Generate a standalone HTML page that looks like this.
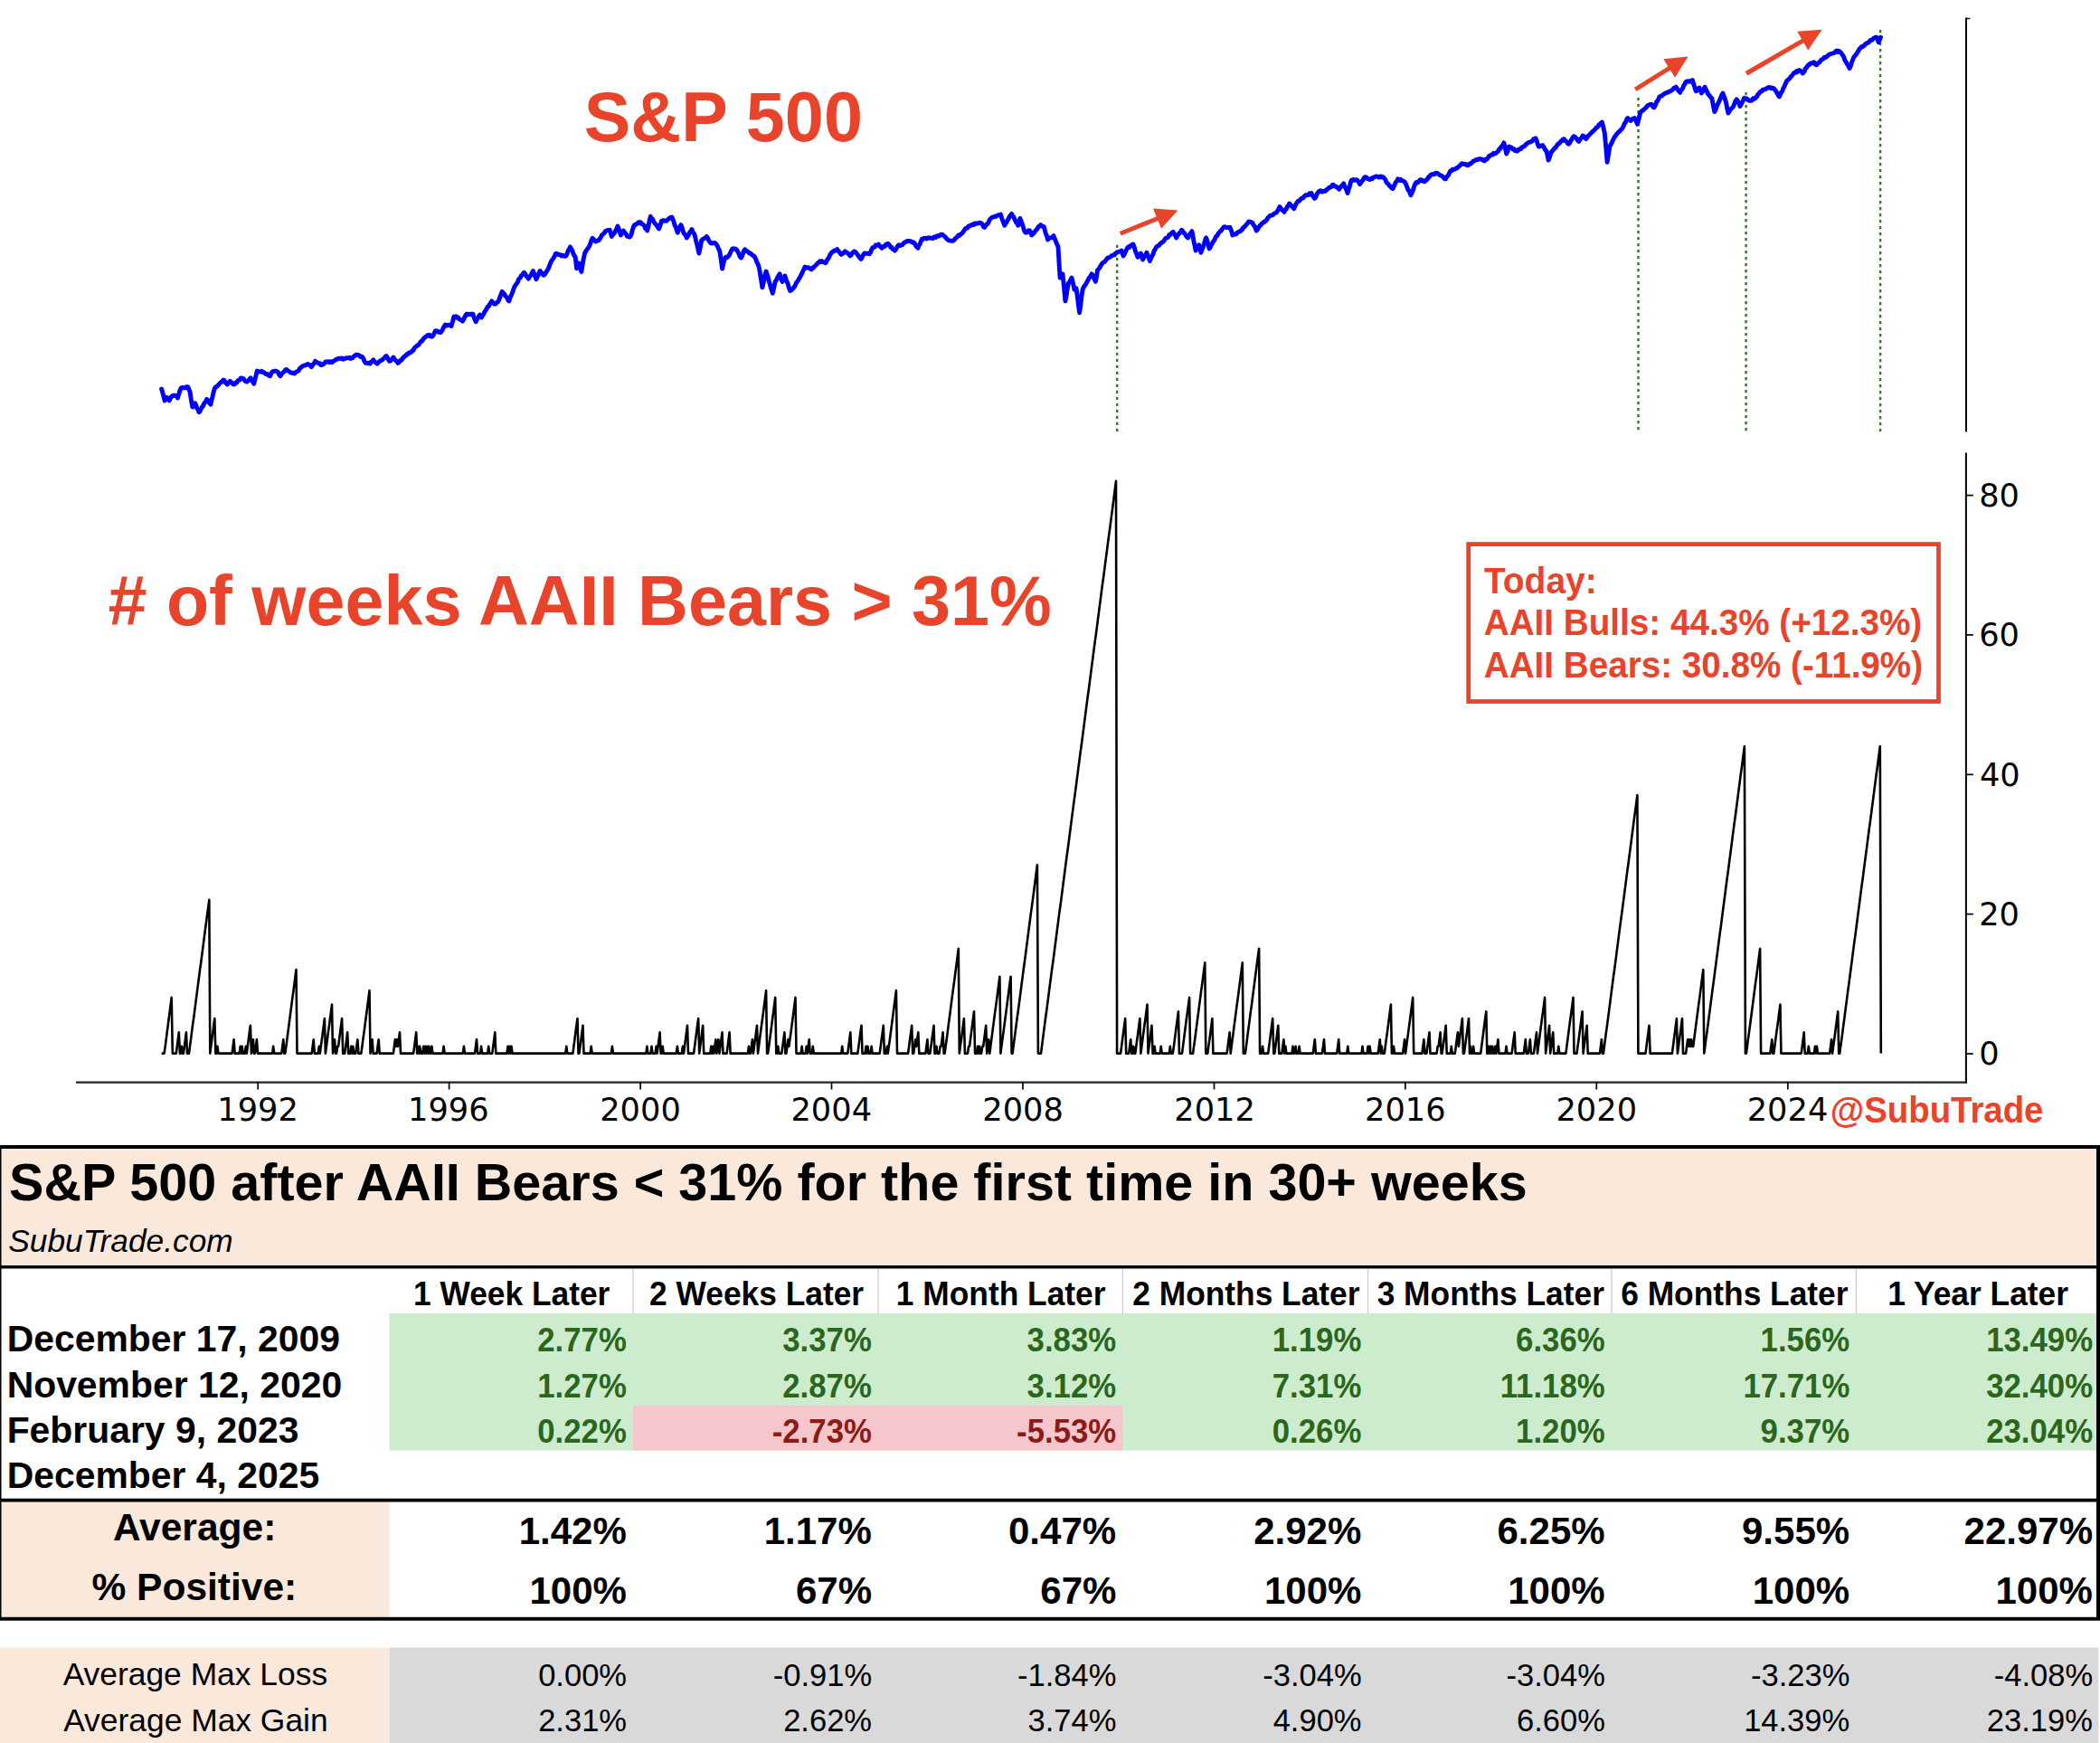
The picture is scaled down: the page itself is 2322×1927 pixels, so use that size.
<!DOCTYPE html>
<html><head><meta charset="utf-8"><title>S&amp;P 500 after AAII Bears &lt; 31%</title>
<style>html,body{margin:0;padding:0;background:#fff;} body{width:2322px;height:1927px;overflow:hidden;} svg{display:block;}</style>
</head><body>
<svg width="2322" height="1927" viewBox="0 0 2322 1927">
<rect x="0" y="0" width="2322" height="1927" fill="#fff"/>
<rect x="0" y="1266" width="2320" height="134" fill="#FAE9DB"/>
<rect x="430.5" y="1452" width="1888" height="151.5" fill="#CDEBCD"/>
<rect x="700" y="1553.8" width="541.3" height="49.7" fill="#F5C7CC"/>
<rect x="0" y="1660" width="430.5" height="128" fill="#FAE9DB"/>
<rect x="0" y="1821.5" width="430.5" height="106" fill="#FAE9DB"/>
<rect x="430.5" y="1821.5" width="1890" height="106" fill="#D9D9D9"/>
<rect x="699.4" y="1402.5" width="1.3" height="49.5" fill="#CFCFCF"/>
<rect x="970.4" y="1402.5" width="1.3" height="49.5" fill="#CFCFCF"/>
<rect x="1240.7" y="1402.5" width="1.3" height="49.5" fill="#CFCFCF"/>
<rect x="1511.9" y="1402.5" width="1.3" height="49.5" fill="#CFCFCF"/>
<rect x="1781.2" y="1402.5" width="1.3" height="49.5" fill="#CFCFCF"/>
<rect x="2051.7" y="1402.5" width="1.3" height="49.5" fill="#CFCFCF"/>
<rect x="0" y="1266" width="2322" height="4" fill="#000"/>
<rect x="0" y="1399" width="2322" height="3.5" fill="#000"/>
<rect x="0" y="1656.7" width="2322" height="3.8" fill="#000"/>
<rect x="0" y="1787.8" width="2322" height="3.9" fill="#000"/>
<rect x="0" y="1266" width="1.5" height="525" fill="#000"/>
<rect x="2318" y="1266" width="4" height="525" fill="#000"/>
<line x1="2174" y1="19.5" x2="2174" y2="477.6" stroke="#000" stroke-width="2.0"/>
<line x1="2174" y1="20.5" x2="2178.5" y2="20.5" stroke="#000" stroke-width="1.4"/>
<line x1="1235.2" y1="270.8" x2="1235.2" y2="477" stroke="#3A762C" stroke-width="2.4" stroke-dasharray="3.2 3.8"/>
<line x1="1811.5" y1="108" x2="1811.5" y2="477" stroke="#3A762C" stroke-width="2.4" stroke-dasharray="3.2 3.8"/>
<line x1="1930.6" y1="102" x2="1930.6" y2="477" stroke="#3A762C" stroke-width="2.4" stroke-dasharray="3.2 3.8"/>
<line x1="2079.1" y1="33" x2="2079.1" y2="477" stroke="#3A762C" stroke-width="2.4" stroke-dasharray="3.2 3.8"/>
<polyline points="178.6,430.0 179.8,434.0 180.9,438.0 182.1,442.9 183.2,441.3 184.3,439.3 185.7,440.4 187.1,442.9 188.2,440.8 189.3,438.6 190.4,438.0 191.4,437.1 192.5,437.5 193.6,437.1 195.0,437.8 196.4,440.0 197.6,436.3 198.8,432.2 200.0,429.3 201.2,428.4 202.4,428.7 203.6,428.6 204.7,428.9 205.8,427.6 206.8,427.6 207.9,427.9 208.9,430.6 210.0,432.9 211.4,442.2 212.9,450.0 214.3,448.0 215.7,445.7 216.8,448.0 217.8,451.5 218.9,452.5 220.0,455.7 221.1,454.7 222.2,452.2 223.2,450.3 224.3,449.3 225.4,446.7 226.4,445.0 227.5,443.9 228.6,441.4 229.7,442.3 230.8,444.4 231.8,445.9 232.9,447.1 233.9,442.6 235.0,438.6 236.1,433.6 237.1,430.0 238.2,428.2 239.2,427.4 240.3,427.1 241.4,425.7 242.5,424.4 243.7,423.1 244.8,422.4 246.0,421.1 247.1,420.0 248.2,420.9 249.2,423.0 250.3,424.1 251.4,425.0 252.9,422.8 254.3,421.4 255.4,422.4 256.5,423.2 257.5,424.7 258.6,425.0 259.7,424.5 260.7,422.9 261.8,423.1 262.9,420.8 263.9,420.4 265.0,420.1 266.0,418.2 267.1,417.9 268.3,418.7 269.4,418.8 270.6,420.7 271.7,421.7 272.9,422.1 273.9,421.2 275.0,420.6 276.1,418.7 277.1,417.9 278.3,420.3 279.5,422.3 280.7,424.3 281.9,419.7 283.1,414.7 284.3,410.0 285.3,410.7 286.3,411.1 287.3,410.6 288.4,411.1 289.4,410.3 290.4,411.5 291.4,411.4 292.4,412.2 293.5,413.4 294.5,413.8 295.5,413.5 296.5,414.3 297.6,415.4 298.6,415.7 300.0,412.4 301.4,410.7 302.6,410.6 303.9,410.2 305.1,410.1 306.4,410.7 307.6,411.7 308.8,414.5 310.0,415.7 311.1,413.7 312.3,412.5 313.4,411.3 314.6,410.6 315.7,408.6 316.8,408.5 317.9,409.6 318.9,410.3 320.0,410.7 321.1,411.8 322.3,412.1 323.4,412.6 324.6,412.1 325.7,412.9 326.8,411.8 327.9,410.8 329.0,410.6 330.1,409.8 331.3,407.6 332.4,406.6 333.5,405.8 334.6,404.8 335.7,404.3 336.8,404.0 338.0,403.9 339.1,403.1 340.3,402.4 341.4,402.9 342.9,404.2 344.3,405.7 345.4,403.9 346.5,402.6 347.5,401.6 348.6,399.3 349.6,400.2 350.6,400.6 351.6,401.3 352.7,402.0 353.7,401.7 354.7,403.6 355.7,403.6 356.8,403.1 357.9,402.4 358.9,401.4 360.0,400.0 361.0,399.9 362.0,400.0 363.0,399.7 364.1,400.6 365.1,399.8 366.1,399.9 367.1,400.7 368.3,399.5 369.4,398.7 370.6,398.3 371.7,397.1 372.9,397.1 374.0,396.2 375.0,396.4 376.1,396.2 377.1,396.5 378.2,395.9 379.3,397.2 380.3,396.7 381.4,396.4 382.4,395.7 383.5,395.8 384.5,395.9 385.5,395.8 386.5,395.3 387.6,396.4 388.6,395.7 389.7,395.9 390.7,394.4 391.8,393.9 392.9,392.6 393.9,392.1 395.0,392.1 396.1,392.4 397.1,392.9 398.2,394.4 399.3,394.0 400.3,394.3 401.4,395.7 402.9,399.3 404.3,401.4 405.6,401.6 406.8,401.2 408.1,402.0 409.3,402.1 410.5,399.9 411.7,399.3 412.9,397.9 413.9,399.7 415.0,400.6 416.1,401.4 417.1,402.1 418.2,400.8 419.2,400.1 420.3,398.9 421.4,398.6 422.5,398.0 423.7,396.7 424.8,396.0 426.0,394.3 427.1,393.6 428.3,395.1 429.5,397.9 430.7,399.3 431.8,399.0 432.9,397.7 433.9,396.6 435.0,395.0 436.2,397.1 437.5,398.6 438.8,399.4 440.0,401.4 441.1,400.6 442.1,399.4 443.2,398.0 444.3,397.9 445.4,395.8 446.6,394.9 447.7,393.6 448.9,393.0 450.0,391.4 451.1,391.4 452.3,389.9 453.4,390.0 454.6,389.4 455.7,387.9 456.8,387.5 457.9,385.4 458.9,384.0 460.0,383.3 461.4,381.9 462.9,381.4 464.0,379.4 465.2,377.9 466.3,377.0 467.5,376.0 468.6,373.8 469.7,373.5 470.8,372.1 471.8,371.6 472.9,370.5 473.9,371.3 475.0,370.4 476.0,371.6 477.1,372.3 478.1,371.9 479.2,370.3 480.3,368.2 481.4,365.7 482.5,366.0 483.7,365.9 484.8,367.3 486.0,367.0 487.1,367.6 488.2,366.4 489.2,364.9 490.3,362.3 491.3,360.6 492.4,359.0 493.5,360.0 494.6,359.9 495.7,359.2 496.8,359.4 497.9,359.7 499.0,360.5 500.4,355.9 501.9,350.0 503.1,350.7 504.3,349.9 505.5,351.3 506.7,351.0 507.9,352.8 509.0,353.4 510.2,353.9 511.4,355.2 512.6,353.3 513.8,350.6 515.0,348.3 516.2,347.1 517.3,347.9 518.4,347.3 519.5,347.1 520.7,347.8 521.8,347.0 522.9,347.1 524.0,350.6 525.1,353.4 526.2,355.7 527.3,353.3 528.4,351.5 529.4,349.7 530.5,348.1 532.4,351.0 533.5,348.7 534.7,347.3 535.8,344.9 537.0,343.2 538.1,341.4 539.2,339.1 540.4,338.7 541.5,336.1 542.7,334.5 543.8,332.9 545.2,334.7 546.7,336.2 548.0,336.0 549.2,334.5 550.5,333.8 551.7,331.6 552.9,328.1 554.0,325.3 555.2,322.4 556.3,323.9 557.4,324.6 558.5,326.8 559.6,327.9 560.7,329.1 561.8,331.9 562.9,332.9 564.0,329.3 565.2,326.7 566.3,324.1 567.5,320.8 568.6,317.6 569.9,315.4 571.1,313.8 572.4,311.9 573.3,309.0 574.3,307.8 575.4,306.9 576.4,304.6 577.4,304.0 578.5,302.3 579.5,301.4 580.7,302.7 581.9,305.2 583.1,306.4 584.3,308.1 585.3,306.5 586.4,305.1 587.4,303.6 588.5,301.1 589.5,299.5 590.6,302.7 591.8,305.6 592.9,308.6 594.0,306.3 595.0,304.4 596.0,301.7 597.1,299.5 598.4,301.2 599.7,302.7 601.0,304.3 602.3,303.4 603.5,301.4 604.8,299.5 606.1,297.3 607.3,294.5 608.6,291.0 609.7,288.5 610.9,286.9 612.0,285.4 613.2,283.1 614.3,280.5 615.4,280.3 616.5,280.7 617.6,281.6 618.8,281.4 619.9,282.1 621.0,282.9 622.2,282.2 623.4,283.2 624.5,283.4 625.7,282.9 626.9,281.0 628.1,277.3 629.3,275.7 630.5,272.9 631.6,275.4 632.8,276.9 633.9,280.4 635.1,282.8 636.2,284.3 637.6,296.7 638.8,293.4 640.0,291.0 641.5,296.5 642.9,300.5 644.8,288.1 646.7,279.5 648.0,277.4 649.2,275.7 650.5,273.8 651.7,272.0 652.9,269.1 654.0,265.4 655.2,263.3 656.3,264.5 657.5,265.9 658.6,267.1 659.8,266.4 660.9,265.7 662.1,265.7 663.2,263.8 664.2,262.9 665.3,260.1 666.4,259.3 667.5,258.3 668.5,257.1 669.6,255.3 670.7,255.0 671.9,254.5 673.1,254.7 674.3,254.3 675.3,257.9 676.4,261.4 677.5,259.3 678.6,258.6 679.7,257.2 680.8,254.8 681.8,252.9 682.9,250.0 684.1,252.7 685.2,256.3 686.4,260.0 687.8,256.8 689.3,255.0 690.4,257.0 691.5,257.8 692.5,259.2 693.6,261.4 694.8,261.3 695.9,262.1 697.1,261.4 698.2,258.7 699.2,254.6 700.3,251.2 701.4,248.6 702.5,248.7 703.7,247.6 704.8,247.2 706.0,245.6 707.1,245.7 708.2,245.7 709.2,247.5 710.3,247.8 711.4,248.6 712.5,249.5 713.5,252.5 714.6,253.6 715.7,255.0 716.9,250.2 718.1,243.9 719.3,239.3 720.5,241.8 721.8,242.5 723.0,245.7 724.3,247.1 725.4,248.5 726.5,249.7 727.5,251.5 728.6,252.9 730.0,249.3 731.4,244.3 732.5,243.9 733.7,243.7 734.8,244.3 736.0,243.9 737.1,244.3 738.3,242.8 739.4,242.0 740.6,241.0 741.7,240.4 742.9,240.0 744.0,242.5 745.0,245.4 746.1,249.0 747.2,251.1 748.2,254.3 749.3,257.1 750.5,253.8 751.7,251.2 752.9,248.6 754.3,252.1 755.7,257.1 756.9,258.6 758.1,260.2 759.3,262.9 760.4,261.4 761.6,259.3 762.7,256.8 763.9,255.4 765.0,253.6 766.2,256.9 767.4,258.2 768.6,261.4 769.7,266.6 770.8,270.6 771.8,275.3 772.9,280.0 774.3,273.4 775.7,265.7 776.8,264.7 778.0,264.0 779.1,263.4 780.3,263.0 781.4,261.4 782.5,262.9 783.5,265.5 784.6,267.1 785.7,268.6 786.8,269.0 788.0,268.7 789.1,268.8 790.3,268.4 791.4,269.3 792.5,270.7 793.5,272.5 794.6,275.5 795.7,277.1 797.2,286.7 798.6,297.1 800.0,290.9 801.4,285.7 802.5,284.3 803.5,284.8 804.6,284.2 805.7,282.9 806.8,281.2 807.9,278.6 808.9,276.6 810.0,275.0 811.1,274.8 812.1,275.3 813.2,275.0 814.3,275.7 815.5,277.9 816.8,280.0 818.0,283.4 819.3,285.0 820.4,283.4 821.5,280.4 822.5,277.6 823.6,275.7 824.9,277.5 826.1,277.5 827.4,278.7 828.6,280.0 829.7,279.9 830.9,281.3 832.0,282.1 833.2,282.9 834.3,283.6 835.5,286.1 836.8,289.7 838.0,291.9 839.3,295.7 840.5,302.7 841.7,309.8 842.9,317.9 844.0,313.3 845.0,308.2 846.0,303.7 847.1,300.0 848.1,303.2 849.2,306.5 850.2,310.6 851.2,313.9 852.2,317.8 853.3,321.1 854.3,324.3 855.7,318.2 857.1,311.4 858.4,309.9 859.6,307.0 860.9,304.7 862.1,302.9 863.5,307.9 865.0,311.4 866.5,307.6 867.9,305.0 869.0,308.6 870.2,311.8 871.3,314.1 872.5,318.7 873.6,321.4 874.8,321.1 875.9,319.7 877.1,318.6 878.3,317.1 879.4,315.4 880.6,312.4 881.7,311.2 882.9,309.3 883.9,307.3 884.9,305.8 885.9,303.7 887.0,301.7 888.0,299.2 889.0,297.7 890.0,295.0 891.0,295.7 892.0,296.1 893.0,295.8 894.1,295.9 895.1,296.5 896.1,297.3 897.1,297.9 898.1,296.2 899.2,296.4 900.2,294.9 901.2,294.0 902.2,293.0 903.3,292.0 904.3,290.7 905.4,290.2 906.5,288.9 907.5,289.6 908.6,288.6 909.7,289.5 910.8,289.7 911.8,290.2 912.9,290.7 913.9,289.2 914.9,286.5 915.9,285.9 917.0,283.4 918.0,281.4 919.0,280.0 920.0,278.6 921.1,278.4 922.3,277.0 923.4,277.2 924.6,277.0 925.7,275.7 926.8,277.1 927.9,278.4 928.9,279.9 930.0,281.4 931.1,280.8 932.1,280.1 933.2,279.0 934.3,277.9 935.4,279.1 936.6,279.2 937.7,280.3 938.9,281.5 940.0,282.9 941.1,282.0 942.1,280.1 943.2,279.3 944.3,277.9 945.4,278.2 946.5,279.3 947.5,280.7 948.6,282.1 949.8,283.8 950.9,285.3 952.1,286.4 953.3,284.5 954.5,281.8 955.7,280.0 956.8,280.2 958.0,280.2 959.1,280.4 960.3,279.9 961.4,280.7 962.6,279.0 963.8,275.5 965.0,273.6 966.1,273.8 967.1,273.1 968.2,271.0 969.3,271.1 970.3,271.1 971.4,270.0 972.6,272.2 973.8,272.8 975.0,274.3 976.1,273.1 977.1,272.2 978.2,272.5 979.3,270.5 980.3,270.3 981.4,269.3 982.5,269.8 983.7,271.6 984.8,273.4 985.9,273.2 987.0,275.4 988.2,276.0 989.3,277.1 990.5,275.8 991.7,273.6 992.9,271.4 994.1,270.8 995.4,271.7 996.6,270.9 997.9,270.7 999.1,268.9 1000.4,267.8 1001.6,267.5 1002.9,266.4 1003.9,266.5 1004.9,266.5 1005.9,266.5 1007.0,267.0 1008.0,267.2 1009.0,268.2 1010.0,267.9 1011.2,268.7 1012.5,271.5 1013.8,273.2 1015.0,274.3 1016.1,271.2 1017.1,270.0 1018.2,267.1 1019.3,264.3 1020.4,264.7 1021.4,263.5 1022.5,263.4 1023.6,263.2 1024.6,263.9 1025.7,262.9 1026.8,263.2 1028.0,263.0 1029.1,263.2 1030.3,263.1 1031.4,263.6 1032.5,262.3 1033.7,261.8 1034.8,262.4 1036.0,260.9 1037.1,260.7 1038.3,261.0 1039.6,259.6 1040.8,259.3 1042.1,259.3 1043.3,260.6 1044.6,261.3 1045.8,262.8 1047.1,264.3 1048.3,265.4 1049.4,265.8 1050.6,266.1 1051.7,266.2 1052.9,266.4 1054.0,266.1 1055.2,265.1 1056.3,263.5 1057.5,262.8 1058.6,261.4 1059.7,260.0 1060.8,260.4 1061.8,259.2 1062.9,258.6 1064.0,257.7 1065.2,256.2 1066.3,254.4 1067.5,252.7 1068.6,252.1 1069.6,252.2 1070.6,250.3 1071.6,250.3 1072.7,249.4 1073.7,248.8 1074.7,248.9 1075.7,247.9 1076.8,248.5 1077.8,247.1 1078.9,247.6 1080.0,246.8 1081.1,247.1 1082.2,246.6 1083.2,246.1 1084.3,246.4 1085.4,247.1 1086.4,248.4 1087.5,250.8 1088.6,251.4 1089.6,250.0 1090.6,248.1 1091.6,247.8 1092.7,246.5 1093.7,244.2 1094.7,242.3 1095.7,241.4 1096.8,240.5 1098.0,239.9 1099.1,239.9 1100.3,239.1 1101.4,239.3 1102.7,238.3 1103.9,237.8 1105.2,237.8 1106.4,237.1 1107.5,240.8 1108.6,243.6 1109.6,246.1 1110.7,249.3 1111.8,247.3 1113.0,245.7 1114.1,243.6 1115.2,241.7 1116.3,239.4 1117.5,237.9 1118.6,236.4 1119.6,239.0 1120.6,239.5 1121.6,241.9 1122.7,244.0 1123.7,246.2 1124.7,247.0 1125.7,249.3 1126.8,245.0 1127.9,241.4 1129.0,244.1 1130.2,247.5 1131.3,250.7 1132.5,254.7 1133.6,257.1 1134.8,257.1 1136.1,256.6 1137.3,254.8 1138.6,255.0 1139.7,256.8 1140.7,260.0 1142.0,258.9 1143.2,257.8 1144.5,255.7 1145.7,254.3 1147.0,253.0 1148.2,250.7 1149.5,249.9 1150.7,248.6 1151.9,250.0 1153.1,250.5 1154.3,250.7 1155.4,254.8 1156.4,258.6 1157.5,261.0 1158.6,265.0 1159.7,263.7 1160.7,263.0 1161.8,262.9 1162.9,262.4 1163.9,262.1 1165.0,260.7 1166.2,264.1 1167.5,267.0 1168.8,270.3 1170.0,272.9 1171.0,289.9 1172.1,307.1 1173.5,305.1 1175.0,302.9 1176.5,317.2 1177.9,332.9 1179.1,326.7 1180.2,319.1 1181.4,312.9 1182.6,311.6 1183.8,309.3 1185.0,307.1 1186.5,313.2 1187.9,320.0 1189.0,318.7 1190.0,318.6 1191.2,327.2 1192.4,336.9 1193.6,345.7 1194.8,337.5 1195.9,327.9 1197.1,320.0 1198.3,317.2 1199.6,315.7 1200.8,313.7 1202.1,311.4 1203.3,309.1 1204.6,306.7 1205.8,305.2 1207.1,302.9 1208.2,304.2 1209.2,306.8 1210.3,309.2 1211.4,311.4 1212.5,305.7 1213.6,298.6 1214.7,297.4 1215.7,296.3 1216.8,294.3 1217.9,292.4 1218.9,291.0 1220.0,290.0 1221.1,289.7 1222.3,288.3 1223.4,286.7 1224.6,285.2 1225.7,285.0 1226.8,284.4 1227.8,284.0 1228.9,283.0 1230.0,282.1 1231.1,282.1 1232.2,281.9 1233.2,280.2 1234.3,280.0 1235.4,278.7 1236.6,278.5 1237.7,278.1 1238.9,277.9 1240.0,277.0 1241.0,279.5 1242.1,282.9 1243.2,281.2 1244.2,279.0 1245.3,276.5 1246.4,274.3 1247.5,273.1 1248.6,273.6 1249.7,271.8 1250.7,271.9 1251.8,270.3 1252.9,270.0 1254.2,273.1 1255.4,277.6 1256.7,280.4 1257.9,284.3 1259.1,283.6 1260.2,281.4 1261.4,280.0 1262.5,283.0 1263.6,287.1 1264.7,284.7 1265.8,283.1 1266.8,281.5 1267.9,279.3 1269.1,283.1 1270.2,284.9 1271.4,288.6 1272.5,285.8 1273.7,283.0 1274.8,281.6 1276.0,277.7 1277.1,275.7 1278.3,273.7 1279.4,272.4 1280.6,271.7 1281.7,271.2 1282.9,269.3 1283.9,269.0 1284.9,267.8 1285.9,267.4 1287.0,266.3 1288.0,264.5 1289.0,263.3 1290.0,262.9 1291.0,262.7 1292.0,261.4 1293.0,259.4 1294.1,259.4 1295.1,258.1 1296.1,257.1 1297.1,256.4 1298.3,258.3 1299.5,260.2 1300.7,262.9 1301.8,260.4 1303.0,259.1 1304.1,257.5 1305.3,256.7 1306.4,254.3 1307.4,254.9 1308.5,257.5 1309.5,257.5 1310.5,259.0 1311.5,261.0 1312.6,262.2 1313.6,262.9 1314.7,261.0 1315.8,258.6 1316.8,257.5 1317.9,255.7 1319.0,260.8 1320.0,267.1 1321.0,271.3 1322.1,277.1 1323.3,274.7 1324.5,273.5 1325.7,270.7 1326.8,274.2 1327.9,279.3 1329.0,275.9 1330.2,273.2 1331.3,269.9 1332.5,265.4 1333.6,262.9 1334.8,266.2 1335.9,270.3 1337.1,275.0 1338.2,273.7 1339.2,270.7 1340.3,269.5 1341.4,267.1 1342.5,265.9 1343.7,263.2 1344.8,261.2 1346.0,260.5 1347.1,257.9 1348.1,257.1 1349.2,255.5 1350.2,255.2 1351.2,253.5 1352.2,252.4 1353.3,250.9 1354.3,250.7 1355.4,251.2 1356.6,251.6 1357.7,251.3 1358.9,252.0 1360.0,251.4 1361.5,254.9 1362.9,260.0 1364.0,259.0 1365.0,258.9 1366.1,259.1 1367.2,258.6 1368.2,257.1 1369.3,256.4 1370.3,256.1 1371.4,255.7 1372.4,254.5 1373.5,254.0 1374.5,251.6 1375.5,251.4 1376.6,250.1 1377.6,249.1 1378.6,247.8 1379.7,246.4 1380.7,245.0 1381.8,245.1 1382.8,245.4 1383.9,245.8 1385.0,246.4 1386.1,249.0 1387.2,250.0 1388.2,252.4 1389.3,255.0 1390.5,253.8 1391.8,251.4 1393.0,249.5 1394.3,248.6 1395.4,246.8 1396.5,246.5 1397.5,245.1 1398.6,245.1 1399.7,243.8 1400.8,242.9 1401.8,240.7 1402.9,240.0 1404.0,238.7 1405.0,238.1 1406.1,238.1 1407.2,237.8 1408.2,236.8 1409.3,235.8 1410.3,235.5 1411.4,235.0 1412.6,233.1 1413.8,231.0 1415.0,228.6 1416.2,230.4 1417.5,232.0 1418.8,233.1 1420.0,234.3 1421.1,231.8 1422.3,231.1 1423.4,228.4 1424.6,227.0 1425.7,225.0 1427.0,226.2 1428.2,228.2 1429.5,228.8 1430.7,230.7 1431.9,227.9 1433.1,225.6 1434.3,223.6 1435.4,222.1 1436.5,222.4 1437.5,221.0 1438.6,219.7 1439.7,218.9 1440.8,219.0 1441.8,217.3 1442.9,216.4 1443.9,215.6 1444.9,216.1 1445.9,215.4 1447.0,215.6 1448.0,213.8 1449.0,214.0 1450.0,213.6 1451.2,216.0 1452.4,217.9 1453.6,219.3 1454.8,218.0 1456.1,214.6 1457.3,213.0 1458.6,211.4 1459.7,210.8 1460.9,210.9 1462.0,212.2 1463.2,211.5 1464.3,211.4 1465.4,211.3 1466.5,209.6 1467.6,209.6 1468.7,208.2 1469.9,207.1 1471.0,207.1 1472.1,206.6 1473.2,204.5 1474.3,204.3 1475.4,205.3 1476.4,206.2 1477.5,206.3 1478.6,207.4 1479.6,207.9 1480.7,209.3 1482.0,207.2 1483.2,205.7 1484.5,204.7 1485.7,202.9 1486.8,205.8 1487.8,207.8 1488.9,210.1 1490.0,213.6 1491.1,209.7 1492.2,206.7 1493.2,202.4 1494.3,199.3 1495.4,198.9 1496.6,198.5 1497.7,199.4 1498.9,198.8 1500.0,198.6 1501.2,199.6 1502.4,201.3 1503.6,203.6 1504.7,201.9 1505.9,200.5 1507.0,199.1 1508.2,196.6 1509.3,195.7 1510.5,195.9 1511.8,197.5 1513.0,197.7 1514.3,198.6 1515.3,197.7 1516.3,197.3 1517.3,197.8 1518.4,196.2 1519.4,196.1 1520.4,195.3 1521.4,195.0 1522.5,195.0 1523.7,195.8 1524.8,196.1 1525.9,195.2 1527.0,195.0 1528.2,196.0 1529.3,195.7 1530.5,197.0 1531.8,198.5 1533.0,201.7 1534.3,202.9 1535.4,203.9 1536.6,205.7 1537.7,206.2 1538.9,208.1 1540.0,208.6 1541.1,206.4 1542.3,203.8 1543.4,201.4 1544.6,200.1 1545.7,197.9 1546.7,198.5 1547.8,199.4 1548.8,198.4 1549.8,199.7 1550.8,199.7 1551.9,200.3 1552.9,200.7 1553.9,202.3 1554.9,204.6 1555.9,207.2 1557.0,210.0 1558.0,210.8 1559.0,213.5 1560.0,215.7 1561.2,213.0 1562.5,210.0 1563.8,205.6 1565.0,202.9 1566.1,201.6 1567.1,202.2 1568.2,201.5 1569.3,200.0 1570.3,198.6 1571.4,198.6 1572.6,200.0 1573.8,199.8 1575.0,200.7 1576.1,200.2 1577.3,198.7 1578.4,197.9 1579.5,195.7 1580.6,195.6 1581.8,193.6 1582.9,192.9 1584.0,192.4 1585.2,192.9 1586.3,192.5 1587.5,191.2 1588.6,191.4 1589.7,191.7 1590.8,192.7 1591.9,193.6 1593.0,194.1 1594.2,194.4 1595.3,195.3 1596.4,196.8 1597.5,197.8 1598.6,197.9 1599.7,195.3 1600.9,194.3 1602.0,192.7 1603.2,189.7 1604.3,188.6 1605.3,188.7 1606.3,187.2 1607.3,187.5 1608.4,187.0 1609.4,186.7 1610.4,185.8 1611.4,185.7 1612.7,184.3 1613.9,183.3 1615.2,181.8 1616.4,180.7 1617.5,181.3 1618.6,181.3 1619.7,181.7 1620.7,181.4 1621.8,182.7 1622.9,182.9 1623.9,182.2 1624.9,181.0 1625.9,181.2 1627.0,180.5 1628.0,179.3 1629.0,178.1 1630.0,177.9 1631.0,177.5 1632.0,176.6 1633.0,176.4 1634.1,176.5 1635.1,175.7 1636.1,175.9 1637.1,175.7 1638.2,176.3 1639.2,176.1 1640.3,177.6 1641.4,177.9 1642.4,176.3 1643.5,176.4 1644.5,175.6 1645.5,174.2 1646.5,172.5 1647.6,172.3 1648.6,171.4 1649.6,170.7 1650.6,171.1 1651.6,169.3 1652.7,170.0 1653.7,169.7 1654.7,168.8 1655.7,167.9 1656.7,167.0 1657.8,164.6 1658.8,164.4 1659.8,162.2 1660.8,161.5 1661.9,160.0 1662.9,157.9 1664.3,163.4 1665.7,170.0 1667.2,166.5 1668.6,162.1 1669.7,163.4 1670.7,162.7 1671.8,163.7 1672.8,165.0 1673.9,164.7 1675.0,166.5 1676.0,166.1 1677.1,167.1 1678.2,166.9 1679.2,165.1 1680.3,165.0 1681.4,164.9 1682.5,163.1 1683.5,162.4 1684.6,162.1 1685.7,161.4 1686.8,160.3 1688.0,158.9 1689.1,158.3 1690.3,157.4 1691.4,157.1 1692.5,157.1 1693.6,156.0 1694.7,155.6 1695.7,153.8 1696.8,154.1 1697.9,152.9 1699.1,155.4 1700.2,159.1 1701.4,162.1 1702.5,162.0 1703.6,161.2 1704.6,161.6 1705.7,160.7 1706.8,162.4 1707.8,164.0 1708.9,166.1 1710.0,167.1 1711.0,171.5 1712.1,177.1 1713.5,173.6 1715.0,168.6 1716.0,167.6 1717.0,166.0 1718.0,165.4 1719.1,163.3 1720.1,163.2 1721.1,161.4 1722.1,160.0 1723.1,158.9 1724.2,158.6 1725.2,157.2 1726.2,155.8 1727.2,155.8 1728.3,153.8 1729.3,153.6 1730.5,155.5 1731.8,156.1 1733.0,158.1 1734.3,159.3 1735.4,158.4 1736.6,156.0 1737.7,154.4 1738.9,152.1 1740.0,150.7 1741.1,151.0 1742.3,152.2 1743.4,153.6 1744.6,155.4 1745.7,156.4 1746.8,154.7 1747.8,153.2 1748.9,152.2 1750.0,150.0 1751.2,150.6 1752.4,152.0 1753.6,153.6 1754.6,152.7 1755.7,150.6 1756.7,149.5 1757.7,148.9 1758.8,147.4 1759.8,146.7 1760.8,145.4 1761.9,144.8 1762.9,143.6 1764.0,142.7 1765.0,141.0 1766.1,140.6 1767.2,139.3 1768.2,137.6 1769.3,137.8 1770.3,135.7 1771.4,135.0 1772.8,140.5 1774.3,147.1 1775.7,162.6 1777.1,179.3 1778.5,170.6 1780.0,161.4 1781.0,160.2 1782.0,158.2 1783.0,155.8 1784.1,153.7 1785.1,151.5 1786.1,150.7 1787.1,148.6 1788.3,147.6 1789.4,146.1 1790.6,145.4 1791.7,144.0 1792.9,142.9 1794.1,141.5 1795.2,139.1 1796.3,136.3 1797.5,135.3 1798.7,131.8 1799.8,130.5 1800.8,131.6 1801.9,132.3 1802.9,133.5 1804.0,132.3 1805.2,131.3 1806.3,131.7 1807.4,130.5 1808.4,132.0 1809.5,135.1 1810.5,137.3 1812.0,131.9 1813.5,125.1 1814.6,123.4 1815.7,122.4 1816.8,122.0 1817.8,120.8 1818.9,119.9 1820.0,119.1 1821.1,117.5 1822.2,116.4 1823.4,116.0 1824.5,115.5 1825.7,115.2 1826.7,115.7 1827.8,118.4 1828.8,119.0 1829.8,117.4 1830.8,115.3 1831.8,112.2 1832.9,111.5 1833.9,109.3 1834.9,106.9 1836.0,106.3 1837.2,106.1 1838.3,105.1 1839.5,104.2 1840.6,103.4 1841.7,103.0 1842.9,102.1 1844.0,102.3 1845.1,101.3 1846.3,101.2 1847.4,100.3 1848.5,99.8 1849.7,98.8 1850.8,97.4 1852.0,97.0 1853.1,96.2 1854.2,97.6 1855.4,99.7 1856.5,100.8 1857.7,102.3 1858.7,100.0 1859.7,98.7 1860.8,97.3 1861.8,94.2 1862.8,93.4 1863.8,90.9 1864.8,89.9 1865.8,90.0 1866.8,89.7 1867.9,90.2 1868.9,90.3 1869.9,89.3 1871.4,88.6 1872.7,93.1 1873.9,96.5 1875.2,100.8 1876.5,100.1 1877.7,98.0 1879.0,97.0 1880.2,99.6 1881.3,103.0 1882.6,101.4 1883.8,98.7 1885.1,96.2 1886.2,98.8 1887.4,101.0 1888.5,103.8 1889.7,105.3 1890.7,106.3 1891.8,107.9 1892.8,108.4 1894.3,116.3 1895.8,123.6 1897.1,121.1 1898.3,117.4 1899.6,114.5 1900.7,112.6 1901.8,110.0 1902.8,107.3 1903.9,104.8 1905.0,103.0 1906.3,107.0 1907.5,110.0 1908.8,114.5 1909.9,120.5 1911.0,125.1 1912.2,123.0 1913.3,121.3 1914.4,119.9 1915.6,119.0 1916.8,117.4 1917.9,114.2 1919.0,111.6 1920.2,109.9 1921.5,111.7 1922.7,114.2 1924.0,117.5 1925.2,115.5 1926.3,113.2 1927.4,111.0 1928.6,108.4 1929.7,109.3 1930.9,108.7 1932.0,110.0 1933.1,110.2 1934.3,111.4 1935.4,111.4 1936.4,111.3 1937.4,110.8 1938.5,108.8 1939.5,109.5 1940.5,108.9 1941.5,107.6 1942.6,107.1 1943.7,104.6 1944.8,103.5 1945.8,102.2 1946.9,100.9 1948.0,101.0 1949.1,99.2 1950.1,99.3 1951.1,98.7 1952.2,98.6 1953.2,97.9 1954.2,97.0 1955.2,97.0 1956.2,96.5 1957.2,96.6 1958.2,97.8 1959.3,97.0 1960.3,97.3 1961.3,97.7 1962.3,99.1 1963.3,100.0 1964.3,101.9 1965.4,103.5 1966.4,105.7 1967.4,106.9 1968.5,104.4 1969.6,102.0 1970.7,100.8 1971.7,97.8 1972.8,96.0 1973.9,93.4 1975.0,90.9 1976.0,89.0 1977.0,88.4 1978.1,87.2 1979.1,86.6 1980.1,84.7 1981.1,84.1 1982.2,82.6 1983.2,80.9 1984.2,80.2 1985.2,80.4 1986.2,78.8 1987.2,79.6 1988.3,78.1 1989.3,77.5 1990.3,77.9 1991.8,79.0 1993.3,81.0 1994.3,79.9 1995.3,78.7 1996.3,75.6 1997.4,74.9 1998.4,73.3 1999.4,71.8 2000.4,71.8 2001.4,70.3 2002.5,70.3 2003.5,69.6 2004.5,69.8 2005.5,68.8 2006.5,69.4 2007.6,71.5 2008.6,71.8 2009.6,70.4 2010.6,69.3 2011.7,69.1 2012.7,67.7 2013.7,66.1 2014.7,65.7 2015.8,65.2 2016.9,63.5 2018.0,63.9 2019.0,63.0 2020.1,62.4 2021.2,61.4 2022.3,60.4 2023.5,59.8 2024.6,59.5 2025.8,59.1 2026.9,58.9 2028.4,58.4 2029.9,56.6 2031.1,56.1 2032.2,57.6 2033.3,56.4 2034.5,57.3 2036.0,58.7 2037.5,61.1 2038.8,63.3 2040.0,66.9 2041.3,68.8 2042.6,71.1 2043.8,73.1 2045.1,75.6 2046.2,73.2 2047.4,69.1 2048.5,66.4 2049.7,63.4 2050.8,61.9 2051.9,60.8 2053.0,59.3 2054.0,57.6 2055.1,55.6 2056.2,54.0 2057.3,52.8 2058.4,51.5 2059.5,51.8 2060.6,50.7 2061.6,50.1 2062.7,48.4 2063.8,48.1 2064.9,47.4 2065.9,47.1 2066.9,46.0 2067.9,44.6 2069.0,44.3 2070.0,44.3 2071.0,42.9 2072.3,41.9 2073.6,41.3 2074.9,41.3 2076.0,43.7 2077.1,46.7 2078.2,44.3 2079.4,41.3" fill="none" stroke="#0000FF" stroke-width="4.9" stroke-linejoin="round" stroke-linecap="round"/>
<polygon points="1239.6,260.6 1280.5,244.0 1284.0,252.8 1302.4,232.4 1275.0,230.6 1278.6,239.4 1237.8,256.0" fill="#E8442B"/>
<polygon points="1809.5,101.0 1847.0,77.6 1852.0,85.7 1866.6,62.4 1839.3,65.3 1844.3,73.4 1806.9,96.8" fill="#E8442B"/>
<polygon points="1932.3,83.4 1994.5,47.3 1999.2,55.6 2014.6,32.8 1987.2,34.8 1992.0,43.0 1929.7,79.0" fill="#E8442B"/>
<line x1="2173.9" y1="500.4" x2="2173.9" y2="1197.7" stroke="#000" stroke-width="2.0"/>
<line x1="84" y1="1196.6" x2="2175" y2="1196.6" stroke="#222" stroke-width="2.3"/>
<line x1="285.2" y1="1196.6" x2="285.2" y2="1204.5" stroke="#000" stroke-width="1.7"/>
<line x1="496.6" y1="1196.6" x2="496.6" y2="1204.5" stroke="#000" stroke-width="1.7"/>
<line x1="708.1" y1="1196.6" x2="708.1" y2="1204.5" stroke="#000" stroke-width="1.7"/>
<line x1="919.5" y1="1196.6" x2="919.5" y2="1204.5" stroke="#000" stroke-width="1.7"/>
<line x1="1131.0" y1="1196.6" x2="1131.0" y2="1204.5" stroke="#000" stroke-width="1.7"/>
<line x1="1342.5" y1="1196.6" x2="1342.5" y2="1204.5" stroke="#000" stroke-width="1.7"/>
<line x1="1553.9" y1="1196.6" x2="1553.9" y2="1204.5" stroke="#000" stroke-width="1.7"/>
<line x1="1765.3" y1="1196.6" x2="1765.3" y2="1204.5" stroke="#000" stroke-width="1.7"/>
<line x1="1976.8" y1="1196.6" x2="1976.8" y2="1204.5" stroke="#000" stroke-width="1.7"/>
<line x1="2174" y1="1165.0" x2="2181.8" y2="1165.0" stroke="#000" stroke-width="1.7"/>
<line x1="2174" y1="1010.6" x2="2181.8" y2="1010.6" stroke="#000" stroke-width="1.7"/>
<line x1="2174" y1="856.3" x2="2181.8" y2="856.3" stroke="#000" stroke-width="1.7"/>
<line x1="2174" y1="701.9" x2="2181.8" y2="701.9" stroke="#000" stroke-width="1.7"/>
<line x1="2174" y1="547.6" x2="2181.8" y2="547.6" stroke="#000" stroke-width="1.7"/>
<polyline points="178.6,1164.6 179.6,1164.6 180.6,1164.6 181.6,1164.6 182.7,1156.9 183.7,1149.2 184.7,1141.4 185.7,1133.7 186.7,1126.0 187.7,1118.3 188.7,1110.6 189.7,1102.9 190.8,1164.6 191.8,1164.6 192.8,1164.6 193.8,1164.6 194.8,1164.6 195.8,1156.9 196.8,1149.2 197.8,1141.4 198.9,1164.6 199.9,1164.6 200.9,1156.9 201.9,1164.6 202.9,1164.6 203.9,1156.9 204.9,1149.2 205.9,1141.4 207.0,1164.6 208.0,1164.6 209.0,1164.6 210.0,1156.9 211.0,1149.2 212.0,1141.4 213.0,1133.7 214.1,1126.0 215.1,1118.3 216.1,1110.6 217.1,1102.9 218.1,1095.1 219.1,1087.4 220.1,1079.7 221.1,1072.0 222.2,1064.3 223.2,1056.6 224.2,1048.8 225.2,1041.1 226.2,1033.4 227.2,1025.7 228.2,1018.0 229.2,1010.2 230.3,1002.5 231.3,994.8 232.3,1164.6 233.3,1156.9 234.3,1149.2 235.3,1141.4 236.3,1133.7 237.3,1126.0 238.4,1164.6 239.4,1164.6 240.4,1156.9 241.4,1164.6 242.4,1164.6 243.4,1164.6 244.4,1164.6 245.5,1164.6 246.5,1164.6 247.5,1164.6 248.5,1164.6 249.5,1164.6 250.5,1164.6 251.5,1164.6 252.5,1164.6 253.6,1164.6 254.6,1164.6 255.6,1164.6 256.6,1164.6 257.6,1156.9 258.6,1149.2 259.6,1164.6 260.6,1164.6 261.7,1164.6 262.7,1164.6 263.7,1164.6 264.7,1164.6 265.7,1156.9 266.7,1164.6 267.7,1156.9 268.7,1164.6 269.8,1164.6 270.8,1164.6 271.8,1156.9 272.8,1164.6 273.8,1156.9 274.8,1149.2 275.8,1141.4 276.9,1133.7 277.9,1164.6 278.9,1156.9 279.9,1149.2 280.9,1164.6 281.9,1164.6 282.9,1156.9 283.9,1149.2 285.0,1164.6 286.0,1164.6 287.0,1164.6 288.0,1164.6 289.0,1164.6 290.0,1164.6 291.0,1164.6 292.0,1164.6 293.1,1164.6 294.1,1164.6 295.1,1164.6 296.1,1164.6 297.1,1164.6 298.1,1164.6 299.1,1164.6 300.1,1164.6 301.2,1164.6 302.2,1156.9 303.2,1164.6 304.2,1164.6 305.2,1164.6 306.2,1164.6 307.2,1164.6 308.3,1164.6 309.3,1164.6 310.3,1164.6 311.3,1164.6 312.3,1156.9 313.3,1149.2 314.3,1164.6 315.3,1164.6 316.4,1156.9 317.4,1149.2 318.4,1141.4 319.4,1133.7 320.4,1126.0 321.4,1118.3 322.4,1110.6 323.4,1102.9 324.5,1095.1 325.5,1087.4 326.5,1079.7 327.5,1072.0 328.5,1164.6 329.5,1164.6 330.5,1164.6 331.5,1164.6 332.6,1164.6 333.6,1164.6 334.6,1164.6 335.6,1164.6 336.6,1164.6 337.6,1164.6 338.6,1164.6 339.7,1164.6 340.7,1164.6 341.7,1164.6 342.7,1164.6 343.7,1164.6 344.7,1164.6 345.7,1156.9 346.7,1149.2 347.8,1164.6 348.8,1164.6 349.8,1164.6 350.8,1164.6 351.8,1164.6 352.8,1156.9 353.8,1164.6 354.8,1156.9 355.9,1149.2 356.9,1141.4 357.9,1133.7 358.9,1126.0 359.9,1164.6 360.9,1156.9 361.9,1149.2 362.9,1141.4 364.0,1133.7 365.0,1126.0 366.0,1118.3 367.0,1110.6 368.0,1164.6 369.0,1156.9 370.0,1149.2 371.1,1164.6 372.1,1164.6 373.1,1156.9 374.1,1156.9 375.1,1149.2 376.1,1141.4 377.1,1133.7 378.1,1126.0 379.2,1164.6 380.2,1164.6 381.2,1164.6 382.2,1156.9 383.2,1149.2 384.2,1141.4 385.2,1164.6 386.2,1164.6 387.3,1164.6 388.3,1156.9 389.3,1164.6 390.3,1156.9 391.3,1164.6 392.3,1164.6 393.3,1164.6 394.3,1156.9 395.4,1149.2 396.4,1164.6 397.4,1164.6 398.4,1164.6 399.4,1164.6 400.4,1156.9 401.4,1149.2 402.5,1141.4 403.5,1133.7 404.5,1126.0 405.5,1118.3 406.5,1110.6 407.5,1102.9 408.5,1095.1 409.5,1164.6 410.6,1156.9 411.6,1149.2 412.6,1164.6 413.6,1164.6 414.6,1164.6 415.6,1164.6 416.6,1164.6 417.6,1156.9 418.7,1149.2 419.7,1164.6 420.7,1164.6 421.7,1164.6 422.7,1164.6 423.7,1164.6 424.7,1164.6 425.7,1164.6 426.8,1164.6 427.8,1164.6 428.8,1164.6 429.8,1164.6 430.8,1164.6 431.8,1164.6 432.8,1164.6 433.9,1164.6 434.9,1164.6 435.9,1156.9 436.9,1149.2 437.9,1156.9 438.9,1149.2 439.9,1156.9 440.9,1149.2 442.0,1141.4 443.0,1164.6 444.0,1164.6 445.0,1164.6 446.0,1164.6 447.0,1164.6 448.0,1164.6 449.0,1164.6 450.1,1164.6 451.1,1164.6 452.1,1164.6 453.1,1164.6 454.1,1164.6 455.1,1164.6 456.1,1164.6 457.1,1164.6 458.2,1156.9 459.2,1149.2 460.2,1141.4 461.2,1164.6 462.2,1156.9 463.2,1164.6 464.2,1156.9 465.3,1164.6 466.3,1164.6 467.3,1164.6 468.3,1156.9 469.3,1164.6 470.3,1156.9 471.3,1164.6 472.3,1156.9 473.4,1164.6 474.4,1156.9 475.4,1164.6 476.4,1164.6 477.4,1156.9 478.4,1164.6 479.4,1164.6 480.4,1164.6 481.5,1164.6 482.5,1164.6 483.5,1164.6 484.5,1164.6 485.5,1164.6 486.5,1164.6 487.5,1164.6 488.5,1164.6 489.6,1164.6 490.6,1156.9 491.6,1164.6 492.6,1164.6 493.6,1164.6 494.6,1164.6 495.6,1164.6 496.7,1164.6 497.7,1164.6 498.7,1164.6 499.7,1164.6 500.7,1164.6 501.7,1164.6 502.7,1164.6 503.7,1164.6 504.8,1164.6 505.8,1164.6 506.8,1164.6 507.8,1164.6 508.8,1164.6 509.8,1164.6 510.8,1164.6 511.8,1164.6 512.9,1156.9 513.9,1164.6 514.9,1164.6 515.9,1164.6 516.9,1164.6 517.9,1164.6 518.9,1164.6 519.9,1164.6 521.0,1164.6 522.0,1164.6 523.0,1164.6 524.0,1164.6 525.0,1164.6 526.0,1156.9 527.0,1149.2 528.1,1164.6 529.1,1164.6 530.1,1164.6 531.1,1164.6 532.1,1156.9 533.1,1164.6 534.1,1164.6 535.1,1164.6 536.2,1164.6 537.2,1164.6 538.2,1164.6 539.2,1164.6 540.2,1156.9 541.2,1164.6 542.2,1164.6 543.2,1164.6 544.3,1164.6 545.3,1156.9 546.3,1149.2 547.3,1141.4 548.3,1164.6 549.3,1164.6 550.3,1164.6 551.3,1164.6 552.4,1164.6 553.4,1164.6 554.4,1164.6 555.4,1164.6 556.4,1164.6 557.4,1164.6 558.4,1164.6 559.5,1164.6 560.5,1164.6 561.5,1156.9 562.5,1164.6 563.5,1156.9 564.5,1164.6 565.5,1156.9 566.5,1164.6 567.6,1164.6 568.6,1164.6 569.6,1164.6 570.6,1164.6 571.6,1164.6 572.6,1164.6 573.6,1164.6 574.6,1164.6 575.7,1164.6 576.7,1164.6 577.7,1164.6 578.7,1164.6 579.7,1164.6 580.7,1164.6 581.7,1164.6 582.7,1164.6 583.8,1164.6 584.8,1164.6 585.8,1164.6 586.8,1164.6 587.8,1164.6 588.8,1164.6 589.8,1164.6 590.9,1164.6 591.9,1164.6 592.9,1164.6 593.9,1164.6 594.9,1164.6 595.9,1164.6 596.9,1164.6 597.9,1164.6 599.0,1164.6 600.0,1164.6 601.0,1164.6 602.0,1164.6 603.0,1164.6 604.0,1164.6 605.0,1164.6 606.0,1164.6 607.1,1164.6 608.1,1164.6 609.1,1164.6 610.1,1164.6 611.1,1164.6 612.1,1164.6 613.1,1164.6 614.1,1164.6 615.2,1164.6 616.2,1164.6 617.2,1164.6 618.2,1164.6 619.2,1164.6 620.2,1164.6 621.2,1164.6 622.3,1164.6 623.3,1164.6 624.3,1164.6 625.3,1164.6 626.3,1156.9 627.3,1164.6 628.3,1164.6 629.3,1164.6 630.4,1164.6 631.4,1164.6 632.4,1164.6 633.4,1164.6 634.4,1156.9 635.4,1149.2 636.4,1141.4 637.4,1133.7 638.5,1126.0 639.5,1164.6 640.5,1164.6 641.5,1156.9 642.5,1149.2 643.5,1141.4 644.5,1133.7 645.5,1164.6 646.6,1164.6 647.6,1164.6 648.6,1164.6 649.6,1164.6 650.6,1164.6 651.6,1164.6 652.6,1164.6 653.7,1156.9 654.7,1164.6 655.7,1164.6 656.7,1164.6 657.7,1164.6 658.7,1164.6 659.7,1164.6 660.7,1164.6 661.8,1164.6 662.8,1164.6 663.8,1164.6 664.8,1164.6 665.8,1164.6 666.8,1164.6 667.8,1164.6 668.8,1164.6 669.9,1164.6 670.9,1164.6 671.9,1164.6 672.9,1164.6 673.9,1164.6 674.9,1164.6 675.9,1164.6 676.9,1156.9 678.0,1164.6 679.0,1164.6 680.0,1164.6 681.0,1164.6 682.0,1164.6 683.0,1164.6 684.0,1164.6 685.0,1164.6 686.1,1164.6 687.1,1164.6 688.1,1164.6 689.1,1164.6 690.1,1164.6 691.1,1164.6 692.1,1164.6 693.2,1164.6 694.2,1164.6 695.2,1164.6 696.2,1164.6 697.2,1164.6 698.2,1164.6 699.2,1164.6 700.2,1164.6 701.3,1164.6 702.3,1164.6 703.3,1164.6 704.3,1164.6 705.3,1164.6 706.3,1164.6 707.3,1164.6 708.3,1164.6 709.4,1164.6 710.4,1164.6 711.4,1164.6 712.4,1164.6 713.4,1164.6 714.4,1164.6 715.4,1156.9 716.4,1164.6 717.5,1164.6 718.5,1164.6 719.5,1164.6 720.5,1156.9 721.5,1164.6 722.5,1164.6 723.5,1164.6 724.6,1164.6 725.6,1156.9 726.6,1164.6 727.6,1156.9 728.6,1149.2 729.6,1141.4 730.6,1164.6 731.6,1164.6 732.7,1156.9 733.7,1164.6 734.7,1164.6 735.7,1164.6 736.7,1164.6 737.7,1164.6 738.7,1164.6 739.7,1164.6 740.8,1164.6 741.8,1164.6 742.8,1164.6 743.8,1164.6 744.8,1164.6 745.8,1164.6 746.8,1164.6 747.8,1164.6 748.9,1156.9 749.9,1164.6 750.9,1164.6 751.9,1164.6 752.9,1164.6 753.9,1164.6 754.9,1156.9 756.0,1164.6 757.0,1156.9 758.0,1149.2 759.0,1141.4 760.0,1133.7 761.0,1164.6 762.0,1164.6 763.0,1164.6 764.1,1164.6 765.1,1164.6 766.1,1164.6 767.1,1164.6 768.1,1156.9 769.1,1149.2 770.1,1141.4 771.1,1133.7 772.2,1126.0 773.2,1164.6 774.2,1156.9 775.2,1149.2 776.2,1141.4 777.2,1133.7 778.2,1164.6 779.2,1164.6 780.3,1164.6 781.3,1164.6 782.3,1164.6 783.3,1164.6 784.3,1164.6 785.3,1164.6 786.3,1156.9 787.4,1164.6 788.4,1156.9 789.4,1164.6 790.4,1156.9 791.4,1149.2 792.4,1164.6 793.4,1156.9 794.4,1149.2 795.5,1164.6 796.5,1156.9 797.5,1149.2 798.5,1141.4 799.5,1164.6 800.5,1164.6 801.5,1164.6 802.5,1164.6 803.6,1164.6 804.6,1156.9 805.6,1149.2 806.6,1141.4 807.6,1164.6 808.6,1164.6 809.6,1164.6 810.6,1164.6 811.7,1164.6 812.7,1164.6 813.7,1164.6 814.7,1164.6 815.7,1164.6 816.7,1164.6 817.7,1164.6 818.8,1164.6 819.8,1164.6 820.8,1164.6 821.8,1164.6 822.8,1164.6 823.8,1164.6 824.8,1164.6 825.8,1164.6 826.9,1164.6 827.9,1156.9 828.9,1164.6 829.9,1164.6 830.9,1156.9 831.9,1149.2 832.9,1164.6 833.9,1156.9 835.0,1149.2 836.0,1141.4 837.0,1133.7 838.0,1164.6 839.0,1156.9 840.0,1149.2 841.0,1141.4 842.0,1133.7 843.1,1126.0 844.1,1118.3 845.1,1110.6 846.1,1102.9 847.1,1095.1 848.1,1164.6 849.1,1164.6 850.2,1156.9 851.2,1149.2 852.2,1141.4 853.2,1133.7 854.2,1126.0 855.2,1118.3 856.2,1110.6 857.2,1102.9 858.3,1164.6 859.3,1164.6 860.3,1156.9 861.3,1164.6 862.3,1164.6 863.3,1164.6 864.3,1164.6 865.3,1156.9 866.4,1149.2 867.4,1141.4 868.4,1164.6 869.4,1164.6 870.4,1156.9 871.4,1149.2 872.4,1156.9 873.4,1149.2 874.5,1141.4 875.5,1133.7 876.5,1126.0 877.5,1118.3 878.5,1110.6 879.5,1102.9 880.5,1164.6 881.6,1164.6 882.6,1164.6 883.6,1164.6 884.6,1164.6 885.6,1164.6 886.6,1156.9 887.6,1164.6 888.6,1164.6 889.7,1164.6 890.7,1164.6 891.7,1156.9 892.7,1164.6 893.7,1156.9 894.7,1149.2 895.7,1164.6 896.7,1164.6 897.8,1164.6 898.8,1156.9 899.8,1164.6 900.8,1164.6 901.8,1164.6 902.8,1164.6 903.8,1164.6 904.8,1164.6 905.9,1164.6 906.9,1164.6 907.9,1164.6 908.9,1164.6 909.9,1164.6 910.9,1164.6 911.9,1164.6 913.0,1164.6 914.0,1164.6 915.0,1164.6 916.0,1164.6 917.0,1164.6 918.0,1164.6 919.0,1164.6 920.0,1164.6 921.1,1164.6 922.1,1164.6 923.1,1164.6 924.1,1164.6 925.1,1164.6 926.1,1164.6 927.1,1164.6 928.1,1164.6 929.2,1164.6 930.2,1164.6 931.2,1156.9 932.2,1164.6 933.2,1164.6 934.2,1164.6 935.2,1164.6 936.2,1164.6 937.3,1164.6 938.3,1156.9 939.3,1149.2 940.3,1141.4 941.3,1164.6 942.3,1164.6 943.3,1164.6 944.4,1164.6 945.4,1164.6 946.4,1164.6 947.4,1164.6 948.4,1164.6 949.4,1156.9 950.4,1149.2 951.4,1141.4 952.5,1133.7 953.5,1164.6 954.5,1164.6 955.5,1164.6 956.5,1164.6 957.5,1156.9 958.5,1164.6 959.5,1156.9 960.6,1164.6 961.6,1164.6 962.6,1164.6 963.6,1156.9 964.6,1164.6 965.6,1164.6 966.6,1164.6 967.6,1164.6 968.7,1164.6 969.7,1164.6 970.7,1164.6 971.7,1164.6 972.7,1164.6 973.7,1156.9 974.7,1149.2 975.8,1141.4 976.8,1133.7 977.8,1164.6 978.8,1164.6 979.8,1164.6 980.8,1156.9 981.8,1164.6 982.8,1156.9 983.9,1149.2 984.9,1141.4 985.9,1133.7 986.9,1126.0 987.9,1118.3 988.9,1110.6 989.9,1102.9 990.9,1095.1 992.0,1164.6 993.0,1164.6 994.0,1164.6 995.0,1164.6 996.0,1164.6 997.0,1164.6 998.0,1164.6 999.0,1164.6 1000.1,1164.6 1001.1,1164.6 1002.1,1164.6 1003.1,1164.6 1004.1,1164.6 1005.1,1156.9 1006.1,1149.2 1007.2,1141.4 1008.2,1133.7 1009.2,1164.6 1010.2,1164.6 1011.2,1156.9 1012.2,1149.2 1013.2,1156.9 1014.2,1149.2 1015.3,1141.4 1016.3,1164.6 1017.3,1164.6 1018.3,1164.6 1019.3,1164.6 1020.3,1164.6 1021.3,1164.6 1022.3,1164.6 1023.4,1164.6 1024.4,1156.9 1025.4,1149.2 1026.4,1164.6 1027.4,1164.6 1028.4,1164.6 1029.4,1156.9 1030.4,1149.2 1031.5,1141.4 1032.5,1133.7 1033.5,1164.6 1034.5,1164.6 1035.5,1156.9 1036.5,1164.6 1037.5,1164.6 1038.6,1164.6 1039.6,1156.9 1040.6,1156.9 1041.6,1149.2 1042.6,1141.4 1043.6,1164.6 1044.6,1164.6 1045.6,1156.9 1046.7,1149.2 1047.7,1141.4 1048.7,1133.7 1049.7,1126.0 1050.7,1118.3 1051.7,1110.6 1052.7,1102.9 1053.7,1095.1 1054.8,1087.4 1055.8,1079.7 1056.8,1072.0 1057.8,1064.3 1058.8,1056.6 1059.8,1048.8 1060.8,1164.6 1061.8,1156.9 1062.9,1149.2 1063.9,1141.4 1064.9,1133.7 1065.9,1126.0 1066.9,1164.6 1067.9,1164.6 1068.9,1164.6 1070.0,1164.6 1071.0,1156.9 1072.0,1156.9 1073.0,1149.2 1074.0,1141.4 1075.0,1133.7 1076.0,1126.0 1077.0,1118.3 1078.1,1164.6 1079.1,1164.6 1080.1,1164.6 1081.1,1156.9 1082.1,1164.6 1083.1,1156.9 1084.1,1164.6 1085.1,1164.6 1086.2,1156.9 1087.2,1156.9 1088.2,1149.2 1089.2,1141.4 1090.2,1133.7 1091.2,1164.6 1092.2,1156.9 1093.2,1149.2 1094.3,1164.6 1095.3,1156.9 1096.3,1149.2 1097.3,1141.4 1098.3,1133.7 1099.3,1126.0 1100.3,1118.3 1101.4,1110.6 1102.4,1102.9 1103.4,1095.1 1104.4,1087.4 1105.4,1079.7 1106.4,1164.6 1107.4,1156.9 1108.4,1149.2 1109.5,1141.4 1110.5,1133.7 1111.5,1126.0 1112.5,1118.3 1113.5,1110.6 1114.5,1102.9 1115.5,1095.1 1116.5,1087.4 1117.6,1079.7 1118.6,1164.6 1119.6,1164.6 1120.6,1156.9 1121.6,1149.2 1122.6,1141.4 1123.6,1133.7 1124.6,1126.0 1125.7,1118.3 1126.7,1110.6 1127.7,1102.9 1128.7,1095.1 1129.7,1087.4 1130.7,1079.7 1131.7,1072.0 1132.8,1064.3 1133.8,1056.6 1134.8,1048.8 1135.8,1041.1 1136.8,1033.4 1137.8,1025.7 1138.8,1018.0 1139.8,1010.2 1140.9,1002.5 1141.9,994.8 1142.9,987.1 1143.9,979.4 1144.9,971.7 1145.9,963.9 1146.9,956.2 1147.9,1164.6 1149.0,1164.6 1150.0,1164.6 1151.0,1164.6 1152.0,1156.9 1153.0,1149.2 1154.0,1141.4 1155.0,1133.7 1156.0,1126.0 1157.1,1118.3 1158.1,1110.6 1159.1,1102.9 1160.1,1095.1 1161.1,1087.4 1162.1,1079.7 1163.1,1072.0 1164.2,1064.3 1165.2,1056.6 1166.2,1048.8 1167.2,1041.1 1168.2,1033.4 1169.2,1025.7 1170.2,1018.0 1171.2,1010.2 1172.3,1002.5 1173.3,994.8 1174.3,987.1 1175.3,979.4 1176.3,971.7 1177.3,963.9 1178.3,956.2 1179.3,948.5 1180.4,940.8 1181.4,933.1 1182.4,925.4 1183.4,917.6 1184.4,909.9 1185.4,902.2 1186.4,894.5 1187.4,886.8 1188.5,879.1 1189.5,871.3 1190.5,863.6 1191.5,855.9 1192.5,848.2 1193.5,840.5 1194.5,832.7 1195.6,825.0 1196.6,817.3 1197.6,809.6 1198.6,801.9 1199.6,794.2 1200.6,786.4 1201.6,778.7 1202.6,771.0 1203.7,763.3 1204.7,755.6 1205.7,747.9 1206.7,740.1 1207.7,732.4 1208.7,724.7 1209.7,717.0 1210.7,709.3 1211.8,701.5 1212.8,693.8 1213.8,686.1 1214.8,678.4 1215.8,670.7 1216.8,663.0 1217.8,655.2 1218.8,647.5 1219.9,639.8 1220.9,632.1 1221.9,624.4 1222.9,616.7 1223.9,608.9 1224.9,601.2 1225.9,593.5 1227.0,585.8 1228.0,578.1 1229.0,570.4 1230.0,562.6 1231.0,554.9 1232.0,547.2 1233.0,539.5 1234.0,531.8 1235.1,1164.6 1236.1,1164.6 1237.1,1164.6 1238.1,1164.6 1239.1,1164.6 1240.1,1156.9 1241.1,1149.2 1242.1,1141.4 1243.2,1133.7 1244.2,1126.0 1245.2,1164.6 1246.2,1164.6 1247.2,1164.6 1248.2,1164.6 1249.2,1156.9 1250.2,1149.2 1251.3,1164.6 1252.3,1164.6 1253.3,1156.9 1254.3,1164.6 1255.3,1164.6 1256.3,1156.9 1257.3,1149.2 1258.4,1141.4 1259.4,1133.7 1260.4,1126.0 1261.4,1164.6 1262.4,1156.9 1263.4,1149.2 1264.4,1141.4 1265.4,1133.7 1266.5,1126.0 1267.5,1118.3 1268.5,1110.6 1269.5,1164.6 1270.5,1156.9 1271.5,1149.2 1272.5,1141.4 1273.5,1133.7 1274.6,1164.6 1275.6,1164.6 1276.6,1156.9 1277.6,1164.6 1278.6,1164.6 1279.6,1164.6 1280.6,1164.6 1281.6,1164.6 1282.7,1164.6 1283.7,1156.9 1284.7,1164.6 1285.7,1164.6 1286.7,1164.6 1287.7,1164.6 1288.7,1164.6 1289.8,1164.6 1290.8,1164.6 1291.8,1164.6 1292.8,1164.6 1293.8,1156.9 1294.8,1164.6 1295.8,1164.6 1296.8,1164.6 1297.9,1156.9 1298.9,1149.2 1299.9,1141.4 1300.9,1133.7 1301.9,1126.0 1302.9,1118.3 1303.9,1164.6 1304.9,1164.6 1306.0,1164.6 1307.0,1164.6 1308.0,1156.9 1309.0,1149.2 1310.0,1141.4 1311.0,1133.7 1312.0,1126.0 1313.0,1118.3 1314.1,1110.6 1315.1,1102.9 1316.1,1164.6 1317.1,1164.6 1318.1,1164.6 1319.1,1164.6 1320.1,1156.9 1321.2,1149.2 1322.2,1141.4 1323.2,1133.7 1324.2,1126.0 1325.2,1118.3 1326.2,1110.6 1327.2,1102.9 1328.2,1095.1 1329.3,1087.4 1330.3,1079.7 1331.3,1072.0 1332.3,1064.3 1333.3,1164.6 1334.3,1164.6 1335.3,1164.6 1336.3,1156.9 1337.4,1149.2 1338.4,1141.4 1339.4,1133.7 1340.4,1126.0 1341.4,1164.6 1342.4,1164.6 1343.4,1164.6 1344.4,1164.6 1345.5,1164.6 1346.5,1164.6 1347.5,1164.6 1348.5,1164.6 1349.5,1164.6 1350.5,1164.6 1351.5,1164.6 1352.6,1164.6 1353.6,1164.6 1354.6,1164.6 1355.6,1164.6 1356.6,1164.6 1357.6,1156.9 1358.6,1149.2 1359.6,1141.4 1360.7,1164.6 1361.7,1156.9 1362.7,1149.2 1363.7,1141.4 1364.7,1133.7 1365.7,1126.0 1366.7,1118.3 1367.7,1110.6 1368.8,1102.9 1369.8,1095.1 1370.8,1087.4 1371.8,1079.7 1372.8,1072.0 1373.8,1064.3 1374.8,1164.6 1375.8,1164.6 1376.9,1164.6 1377.9,1156.9 1378.9,1149.2 1379.9,1141.4 1380.9,1133.7 1381.9,1126.0 1382.9,1118.3 1384.0,1110.6 1385.0,1102.9 1386.0,1095.1 1387.0,1087.4 1388.0,1079.7 1389.0,1072.0 1390.0,1064.3 1391.0,1056.6 1392.1,1048.8 1393.1,1164.6 1394.1,1164.6 1395.1,1164.6 1396.1,1156.9 1397.1,1164.6 1398.1,1164.6 1399.1,1164.6 1400.2,1164.6 1401.2,1164.6 1402.2,1164.6 1403.2,1156.9 1404.2,1149.2 1405.2,1141.4 1406.2,1133.7 1407.2,1126.0 1408.3,1164.6 1409.3,1164.6 1410.3,1156.9 1411.3,1149.2 1412.3,1141.4 1413.3,1133.7 1414.3,1164.6 1415.4,1164.6 1416.4,1164.6 1417.4,1164.6 1418.4,1156.9 1419.4,1149.2 1420.4,1164.6 1421.4,1156.9 1422.4,1164.6 1423.5,1164.6 1424.5,1164.6 1425.5,1164.6 1426.5,1164.6 1427.5,1164.6 1428.5,1164.6 1429.5,1156.9 1430.5,1164.6 1431.6,1164.6 1432.6,1156.9 1433.6,1164.6 1434.6,1164.6 1435.6,1164.6 1436.6,1156.9 1437.6,1164.6 1438.6,1164.6 1439.7,1164.6 1440.7,1164.6 1441.7,1164.6 1442.7,1164.6 1443.7,1164.6 1444.7,1164.6 1445.7,1164.6 1446.8,1164.6 1447.8,1164.6 1448.8,1164.6 1449.8,1164.6 1450.8,1164.6 1451.8,1164.6 1452.8,1156.9 1453.8,1149.2 1454.9,1164.6 1455.9,1164.6 1456.9,1164.6 1457.9,1164.6 1458.9,1164.6 1459.9,1164.6 1460.9,1164.6 1461.9,1164.6 1463.0,1156.9 1464.0,1149.2 1465.0,1164.6 1466.0,1164.6 1467.0,1164.6 1468.0,1164.6 1469.0,1164.6 1470.0,1164.6 1471.1,1164.6 1472.1,1164.6 1473.1,1164.6 1474.1,1164.6 1475.1,1164.6 1476.1,1164.6 1477.1,1164.6 1478.2,1164.6 1479.2,1156.9 1480.2,1149.2 1481.2,1164.6 1482.2,1164.6 1483.2,1164.6 1484.2,1164.6 1485.2,1164.6 1486.3,1164.6 1487.3,1164.6 1488.3,1164.6 1489.3,1164.6 1490.3,1156.9 1491.3,1164.6 1492.3,1164.6 1493.3,1164.6 1494.4,1164.6 1495.4,1164.6 1496.4,1164.6 1497.4,1164.6 1498.4,1164.6 1499.4,1164.6 1500.4,1164.6 1501.4,1164.6 1502.5,1164.6 1503.5,1164.6 1504.5,1164.6 1505.5,1164.6 1506.5,1156.9 1507.5,1164.6 1508.5,1164.6 1509.6,1164.6 1510.6,1164.6 1511.6,1164.6 1512.6,1156.9 1513.6,1164.6 1514.6,1156.9 1515.6,1164.6 1516.6,1164.6 1517.7,1164.6 1518.7,1164.6 1519.7,1164.6 1520.7,1164.6 1521.7,1164.6 1522.7,1164.6 1523.7,1164.6 1524.7,1156.9 1525.8,1149.2 1526.8,1164.6 1527.8,1156.9 1528.8,1164.6 1529.8,1164.6 1530.8,1164.6 1531.8,1156.9 1532.8,1149.2 1533.9,1141.4 1534.9,1133.7 1535.9,1126.0 1536.9,1118.3 1537.9,1110.6 1538.9,1164.6 1539.9,1164.6 1541.0,1156.9 1542.0,1164.6 1543.0,1164.6 1544.0,1164.6 1545.0,1164.6 1546.0,1164.6 1547.0,1164.6 1548.0,1164.6 1549.1,1164.6 1550.1,1164.6 1551.1,1164.6 1552.1,1156.9 1553.1,1149.2 1554.1,1164.6 1555.1,1156.9 1556.1,1149.2 1557.2,1141.4 1558.2,1133.7 1559.2,1126.0 1560.2,1118.3 1561.2,1110.6 1562.2,1102.9 1563.2,1164.6 1564.2,1164.6 1565.3,1164.6 1566.3,1164.6 1567.3,1164.6 1568.3,1164.6 1569.3,1164.6 1570.3,1164.6 1571.3,1164.6 1572.4,1164.6 1573.4,1156.9 1574.4,1149.2 1575.4,1164.6 1576.4,1164.6 1577.4,1164.6 1578.4,1156.9 1579.4,1149.2 1580.5,1141.4 1581.5,1164.6 1582.5,1164.6 1583.5,1164.6 1584.5,1164.6 1585.5,1164.6 1586.5,1164.6 1587.5,1164.6 1588.6,1164.6 1589.6,1156.9 1590.6,1156.9 1591.6,1149.2 1592.6,1141.4 1593.6,1164.6 1594.6,1164.6 1595.6,1156.9 1596.7,1149.2 1597.7,1141.4 1598.7,1133.7 1599.7,1164.6 1600.7,1164.6 1601.7,1164.6 1602.7,1164.6 1603.8,1164.6 1604.8,1156.9 1605.8,1164.6 1606.8,1164.6 1607.8,1164.6 1608.8,1164.6 1609.8,1156.9 1610.8,1149.2 1611.9,1141.4 1612.9,1156.9 1613.9,1149.2 1614.9,1141.4 1615.9,1133.7 1616.9,1126.0 1617.9,1164.6 1618.9,1164.6 1620.0,1156.9 1621.0,1149.2 1622.0,1141.4 1623.0,1133.7 1624.0,1126.0 1625.0,1164.6 1626.0,1156.9 1627.0,1164.6 1628.1,1164.6 1629.1,1156.9 1630.1,1164.6 1631.1,1164.6 1632.1,1164.6 1633.1,1164.6 1634.1,1164.6 1635.2,1164.6 1636.2,1164.6 1637.2,1164.6 1638.2,1156.9 1639.2,1149.2 1640.2,1141.4 1641.2,1133.7 1642.2,1126.0 1643.3,1118.3 1644.3,1164.6 1645.3,1164.6 1646.3,1156.9 1647.3,1164.6 1648.3,1156.9 1649.3,1164.6 1650.3,1156.9 1651.4,1164.6 1652.4,1164.6 1653.4,1156.9 1654.4,1164.6 1655.4,1156.9 1656.4,1149.2 1657.4,1164.6 1658.4,1164.6 1659.5,1164.6 1660.5,1164.6 1661.5,1164.6 1662.5,1164.6 1663.5,1164.6 1664.5,1164.6 1665.5,1156.9 1666.6,1164.6 1667.6,1164.6 1668.6,1164.6 1669.6,1164.6 1670.6,1164.6 1671.6,1164.6 1672.6,1156.9 1673.6,1149.2 1674.7,1141.4 1675.7,1164.6 1676.7,1164.6 1677.7,1164.6 1678.7,1164.6 1679.7,1164.6 1680.7,1164.6 1681.7,1164.6 1682.8,1164.6 1683.8,1164.6 1684.8,1164.6 1685.8,1156.9 1686.8,1149.2 1687.8,1164.6 1688.8,1164.6 1689.8,1164.6 1690.9,1156.9 1691.9,1149.2 1692.9,1164.6 1693.9,1164.6 1694.9,1164.6 1695.9,1164.6 1696.9,1156.9 1697.9,1149.2 1699.0,1141.4 1700.0,1164.6 1701.0,1156.9 1702.0,1149.2 1703.0,1141.4 1704.0,1133.7 1705.0,1126.0 1706.1,1118.3 1707.1,1110.6 1708.1,1102.9 1709.1,1164.6 1710.1,1156.9 1711.1,1149.2 1712.1,1141.4 1713.1,1133.7 1714.2,1164.6 1715.2,1156.9 1716.2,1149.2 1717.2,1141.4 1718.2,1164.6 1719.2,1164.6 1720.2,1164.6 1721.2,1164.6 1722.3,1164.6 1723.3,1156.9 1724.3,1164.6 1725.3,1164.6 1726.3,1164.6 1727.3,1164.6 1728.3,1164.6 1729.3,1164.6 1730.4,1164.6 1731.4,1164.6 1732.4,1156.9 1733.4,1149.2 1734.4,1141.4 1735.4,1133.7 1736.4,1126.0 1737.5,1118.3 1738.5,1110.6 1739.5,1102.9 1740.5,1164.6 1741.5,1164.6 1742.5,1164.6 1743.5,1164.6 1744.5,1156.9 1745.6,1149.2 1746.6,1141.4 1747.6,1133.7 1748.6,1126.0 1749.6,1118.3 1750.6,1164.6 1751.6,1156.9 1752.6,1149.2 1753.7,1141.4 1754.7,1133.7 1755.7,1164.6 1756.7,1164.6 1757.7,1164.6 1758.7,1164.6 1759.7,1164.6 1760.7,1164.6 1761.8,1164.6 1762.8,1164.6 1763.8,1164.6 1764.8,1164.6 1765.8,1164.6 1766.8,1164.6 1767.8,1164.6 1768.9,1164.6 1769.9,1156.9 1770.9,1149.2 1771.9,1164.6 1772.9,1164.6 1773.9,1156.9 1774.9,1149.2 1775.9,1141.4 1777.0,1133.7 1778.0,1126.0 1779.0,1118.3 1780.0,1110.6 1781.0,1102.9 1782.0,1095.1 1783.0,1087.4 1784.0,1079.7 1785.1,1072.0 1786.1,1064.3 1787.1,1056.6 1788.1,1048.8 1789.1,1041.1 1790.1,1033.4 1791.1,1025.7 1792.1,1018.0 1793.2,1010.2 1794.2,1002.5 1795.2,994.8 1796.2,987.1 1797.2,979.4 1798.2,971.7 1799.2,963.9 1800.3,956.2 1801.3,948.5 1802.3,940.8 1803.3,933.1 1804.3,925.4 1805.3,917.6 1806.3,909.9 1807.3,902.2 1808.4,894.5 1809.4,886.8 1810.4,879.1 1811.4,1164.6 1812.4,1164.6 1813.4,1164.6 1814.4,1164.6 1815.4,1164.6 1816.5,1164.6 1817.5,1164.6 1818.5,1164.6 1819.5,1164.6 1820.5,1156.9 1821.5,1149.2 1822.5,1141.4 1823.5,1133.7 1824.6,1164.6 1825.6,1164.6 1826.6,1164.6 1827.6,1164.6 1828.6,1164.6 1829.6,1164.6 1830.6,1164.6 1831.7,1164.6 1832.7,1164.6 1833.7,1164.6 1834.7,1164.6 1835.7,1164.6 1836.7,1164.6 1837.7,1164.6 1838.7,1164.6 1839.8,1164.6 1840.8,1164.6 1841.8,1164.6 1842.8,1164.6 1843.8,1164.6 1844.8,1164.6 1845.8,1164.6 1846.8,1164.6 1847.9,1164.6 1848.9,1164.6 1849.9,1156.9 1850.9,1149.2 1851.9,1141.4 1852.9,1133.7 1853.9,1126.0 1854.9,1164.6 1856.0,1156.9 1857.0,1149.2 1858.0,1141.4 1859.0,1133.7 1860.0,1126.0 1861.0,1164.6 1862.0,1164.6 1863.1,1164.6 1864.1,1164.6 1865.1,1156.9 1866.1,1149.2 1867.1,1156.9 1868.1,1149.2 1869.1,1156.9 1870.1,1149.2 1871.2,1156.9 1872.2,1156.9 1873.2,1149.2 1874.2,1141.4 1875.2,1133.7 1876.2,1126.0 1877.2,1118.3 1878.2,1110.6 1879.3,1102.9 1880.3,1095.1 1881.3,1087.4 1882.3,1079.7 1883.3,1072.0 1884.3,1164.6 1885.3,1156.9 1886.3,1149.2 1887.4,1141.4 1888.4,1133.7 1889.4,1126.0 1890.4,1118.3 1891.4,1110.6 1892.4,1102.9 1893.4,1095.1 1894.5,1087.4 1895.5,1079.7 1896.5,1072.0 1897.5,1064.3 1898.5,1056.6 1899.5,1048.8 1900.5,1041.1 1901.5,1033.4 1902.6,1025.7 1903.6,1018.0 1904.6,1010.2 1905.6,1002.5 1906.6,994.8 1907.6,987.1 1908.6,979.4 1909.6,971.7 1910.7,963.9 1911.7,956.2 1912.7,948.5 1913.7,940.8 1914.7,933.1 1915.7,925.4 1916.7,917.6 1917.7,909.9 1918.8,902.2 1919.8,894.5 1920.8,886.8 1921.8,879.1 1922.8,871.3 1923.8,863.6 1924.8,855.9 1925.9,848.2 1926.9,840.5 1927.9,832.7 1928.9,825.0 1929.9,1164.6 1930.9,1164.6 1931.9,1156.9 1932.9,1149.2 1934.0,1141.4 1935.0,1133.7 1936.0,1126.0 1937.0,1118.3 1938.0,1110.6 1939.0,1102.9 1940.0,1095.1 1941.0,1087.4 1942.1,1079.7 1943.1,1072.0 1944.1,1064.3 1945.1,1056.6 1946.1,1048.8 1947.1,1164.6 1948.1,1164.6 1949.1,1164.6 1950.2,1164.6 1951.2,1164.6 1952.2,1164.6 1953.2,1164.6 1954.2,1164.6 1955.2,1164.6 1956.2,1164.6 1957.3,1164.6 1958.3,1156.9 1959.3,1149.2 1960.3,1164.6 1961.3,1164.6 1962.3,1156.9 1963.3,1149.2 1964.3,1141.4 1965.4,1133.7 1966.4,1126.0 1967.4,1118.3 1968.4,1110.6 1969.4,1164.6 1970.4,1164.6 1971.4,1164.6 1972.4,1164.6 1973.5,1164.6 1974.5,1164.6 1975.5,1164.6 1976.5,1164.6 1977.5,1164.6 1978.5,1164.6 1979.5,1164.6 1980.5,1164.6 1981.6,1164.6 1982.6,1164.6 1983.6,1164.6 1984.6,1164.6 1985.6,1164.6 1986.6,1164.6 1987.6,1164.6 1988.7,1164.6 1989.7,1164.6 1990.7,1164.6 1991.7,1164.6 1992.7,1156.9 1993.7,1149.2 1994.7,1141.4 1995.7,1164.6 1996.8,1164.6 1997.8,1164.6 1998.8,1164.6 1999.8,1156.9 2000.8,1164.6 2001.8,1164.6 2002.8,1164.6 2003.8,1164.6 2004.9,1164.6 2005.9,1164.6 2006.9,1156.9 2007.9,1164.6 2008.9,1156.9 2009.9,1164.6 2010.9,1164.6 2011.9,1164.6 2013.0,1164.6 2014.0,1164.6 2015.0,1164.6 2016.0,1164.6 2017.0,1164.6 2018.0,1164.6 2019.0,1164.6 2020.1,1164.6 2021.1,1164.6 2022.1,1164.6 2023.1,1164.6 2024.1,1156.9 2025.1,1149.2 2026.1,1164.6 2027.1,1156.9 2028.2,1149.2 2029.2,1141.4 2030.2,1133.7 2031.2,1126.0 2032.2,1118.3 2033.2,1164.6 2034.2,1164.6 2035.2,1156.9 2036.3,1149.2 2037.3,1141.4 2038.3,1133.7 2039.3,1126.0 2040.3,1118.3 2041.3,1110.6 2042.3,1102.9 2043.3,1095.1 2044.4,1087.4 2045.4,1079.7 2046.4,1072.0 2047.4,1064.3 2048.4,1056.6 2049.4,1048.8 2050.4,1041.1 2051.5,1033.4 2052.5,1025.7 2053.5,1018.0 2054.5,1010.2 2055.5,1002.5 2056.5,994.8 2057.5,987.1 2058.5,979.4 2059.6,971.7 2060.6,963.9 2061.6,956.2 2062.6,948.5 2063.6,940.8 2064.6,933.1 2065.6,925.4 2066.6,917.6 2067.7,909.9 2068.7,902.2 2069.7,894.5 2070.7,886.8 2071.7,879.1 2072.7,871.3 2073.7,863.6 2074.7,855.9 2075.8,848.2 2076.8,840.5 2077.8,832.7 2078.8,825.0 2079.8,1164.6" fill="none" stroke="#000" stroke-width="2.6" stroke-linejoin="round"/>
<rect x="1623.7" y="601.6" width="519.8" height="173.9" fill="none" stroke="#E8442B" stroke-width="4.8"/>
<text x="645.68" y="155.80" font-family="Liberation Sans, sans-serif" font-size="78.30" font-weight="bold" fill="#E8442B" textLength="308.25" lengthAdjust="spacingAndGlyphs">S&amp;P 500</text>
<text x="119.45" y="690.60" font-family="Liberation Sans, sans-serif" font-size="78.30" font-weight="bold" fill="#E8442B" textLength="1043.38" lengthAdjust="spacingAndGlyphs"># of weeks AAII Bears &gt; 31%</text>
<text x="1640.91" y="655.50" font-family="Liberation Sans, sans-serif" font-size="40.00" font-weight="bold" fill="#E8442B" textLength="124.84" lengthAdjust="spacingAndGlyphs">Today:</text>
<text x="1640.74" y="702.30" font-family="Liberation Sans, sans-serif" font-size="40.00" font-weight="bold" fill="#E8442B" textLength="484.48" lengthAdjust="spacingAndGlyphs">AAII Bulls: 44.3% (+12.3%)</text>
<text x="1640.74" y="749.00" font-family="Liberation Sans, sans-serif" font-size="40.00" font-weight="bold" fill="#E8442B" textLength="485.36" lengthAdjust="spacingAndGlyphs">AAII Bears: 30.8% (-11.9%)</text>
<text x="2023.80" y="1240.90" font-family="Liberation Sans, sans-serif" font-size="40.00" font-weight="bold" fill="#E8442B" textLength="235.65" lengthAdjust="spacingAndGlyphs">@SubuTrade</text>
<text x="240.32" y="1238.60" font-family="DejaVu Sans, sans-serif" font-size="35.20">1992</text>
<text x="451.07" y="1238.60" font-family="DejaVu Sans, sans-serif" font-size="35.20">1996</text>
<text x="663.22" y="1238.60" font-family="DejaVu Sans, sans-serif" font-size="35.20">2000</text>
<text x="874.49" y="1238.60" font-family="DejaVu Sans, sans-serif" font-size="35.20">2004</text>
<text x="1086.30" y="1238.60" font-family="DejaVu Sans, sans-serif" font-size="35.20">2008</text>
<text x="1298.27" y="1238.60" font-family="DejaVu Sans, sans-serif" font-size="35.20">2012</text>
<text x="1509.02" y="1238.60" font-family="DejaVu Sans, sans-serif" font-size="35.20">2016</text>
<text x="1720.47" y="1238.60" font-family="DejaVu Sans, sans-serif" font-size="35.20">2020</text>
<text x="1931.74" y="1238.60" font-family="DejaVu Sans, sans-serif" font-size="35.20">2024</text>
<text x="2188.24" y="1177.20" font-family="DejaVu Sans, sans-serif" font-size="35.20">0</text>
<text x="2188.24" y="1022.85" font-family="DejaVu Sans, sans-serif" font-size="35.20">20</text>
<text x="2188.94" y="868.50" font-family="DejaVu Sans, sans-serif" font-size="35.20">40</text>
<text x="2188.24" y="714.15" font-family="DejaVu Sans, sans-serif" font-size="35.20">60</text>
<text x="2188.24" y="559.80" font-family="DejaVu Sans, sans-serif" font-size="35.20">80</text>
<text x="10.07" y="1327.00" font-family="Liberation Sans, sans-serif" font-size="57.80" font-weight="bold" textLength="1678.61" lengthAdjust="spacingAndGlyphs">S&amp;P 500 after AAII Bears &lt; 31% for the first time in 30+ weeks</text>
<text x="9.24" y="1383.60" font-family="Liberation Sans, sans-serif" font-size="35.80" font-style="italic" textLength="248.45" lengthAdjust="spacingAndGlyphs">SubuTrade.com</text>
<text x="457.02" y="1443.40" font-family="Liberation Sans, sans-serif" font-size="36.20" font-weight="bold" textLength="217.34" lengthAdjust="spacingAndGlyphs">1 Week Later</text>
<text x="718.09" y="1443.40" font-family="Liberation Sans, sans-serif" font-size="36.20" font-weight="bold" textLength="236.99" lengthAdjust="spacingAndGlyphs">2 Weeks Later</text>
<text x="990.86" y="1443.40" font-family="Liberation Sans, sans-serif" font-size="36.20" font-weight="bold" textLength="231.62" lengthAdjust="spacingAndGlyphs">1 Month Later</text>
<text x="1252.24" y="1443.40" font-family="Liberation Sans, sans-serif" font-size="36.20" font-weight="bold" textLength="251.27" lengthAdjust="spacingAndGlyphs">2 Months Later</text>
<text x="1522.67" y="1443.40" font-family="Liberation Sans, sans-serif" font-size="36.20" font-weight="bold" textLength="251.27" lengthAdjust="spacingAndGlyphs">3 Months Later</text>
<text x="1792.22" y="1443.40" font-family="Liberation Sans, sans-serif" font-size="36.20" font-weight="bold" textLength="251.27" lengthAdjust="spacingAndGlyphs">6 Months Later</text>
<text x="2087.26" y="1443.40" font-family="Liberation Sans, sans-serif" font-size="36.20" font-weight="bold" textLength="199.70" lengthAdjust="spacingAndGlyphs">1 Year Later</text>
<text x="7.64" y="1494.00" font-family="Liberation Sans, sans-serif" font-size="40.90" font-weight="bold">December 17, 2009</text>
<text x="7.64" y="1544.80" font-family="Liberation Sans, sans-serif" font-size="40.90" font-weight="bold">November 12, 2020</text>
<text x="7.64" y="1595.40" font-family="Liberation Sans, sans-serif" font-size="40.90" font-weight="bold">February 9, 2023</text>
<text x="7.64" y="1645.40" font-family="Liberation Sans, sans-serif" font-size="40.90" font-weight="bold">December 4, 2025</text>
<text x="594.27" y="1494.00" font-family="Liberation Sans, sans-serif" font-size="37.00" font-weight="bold" fill="#2A661C" textLength="98.62" lengthAdjust="spacingAndGlyphs">2.77%</text>
<text x="865.27" y="1494.00" font-family="Liberation Sans, sans-serif" font-size="37.00" font-weight="bold" fill="#2A661C" textLength="98.62" lengthAdjust="spacingAndGlyphs">3.37%</text>
<text x="1135.57" y="1494.00" font-family="Liberation Sans, sans-serif" font-size="37.00" font-weight="bold" fill="#2A661C" textLength="98.62" lengthAdjust="spacingAndGlyphs">3.83%</text>
<text x="1406.77" y="1494.00" font-family="Liberation Sans, sans-serif" font-size="37.00" font-weight="bold" fill="#2A661C" textLength="98.62" lengthAdjust="spacingAndGlyphs">1.19%</text>
<text x="1676.07" y="1494.00" font-family="Liberation Sans, sans-serif" font-size="37.00" font-weight="bold" fill="#2A661C" textLength="98.62" lengthAdjust="spacingAndGlyphs">6.36%</text>
<text x="1946.57" y="1494.00" font-family="Liberation Sans, sans-serif" font-size="37.00" font-weight="bold" fill="#2A661C" textLength="98.62" lengthAdjust="spacingAndGlyphs">1.56%</text>
<text x="2196.14" y="1494.00" font-family="Liberation Sans, sans-serif" font-size="37.00" font-weight="bold" fill="#2A661C" textLength="117.96" lengthAdjust="spacingAndGlyphs">13.49%</text>
<text x="594.27" y="1544.80" font-family="Liberation Sans, sans-serif" font-size="37.00" font-weight="bold" fill="#2A661C" textLength="98.62" lengthAdjust="spacingAndGlyphs">1.27%</text>
<text x="865.27" y="1544.80" font-family="Liberation Sans, sans-serif" font-size="37.00" font-weight="bold" fill="#2A661C" textLength="98.62" lengthAdjust="spacingAndGlyphs">2.87%</text>
<text x="1135.57" y="1544.80" font-family="Liberation Sans, sans-serif" font-size="37.00" font-weight="bold" fill="#2A661C" textLength="98.62" lengthAdjust="spacingAndGlyphs">3.12%</text>
<text x="1406.77" y="1544.80" font-family="Liberation Sans, sans-serif" font-size="37.00" font-weight="bold" fill="#2A661C" textLength="98.62" lengthAdjust="spacingAndGlyphs">7.31%</text>
<text x="1658.68" y="1544.80" font-family="Liberation Sans, sans-serif" font-size="37.00" font-weight="bold" fill="#2A661C" textLength="116.05" lengthAdjust="spacingAndGlyphs">11.18%</text>
<text x="1927.44" y="1544.80" font-family="Liberation Sans, sans-serif" font-size="37.00" font-weight="bold" fill="#2A661C" textLength="117.96" lengthAdjust="spacingAndGlyphs">17.71%</text>
<text x="2196.14" y="1544.80" font-family="Liberation Sans, sans-serif" font-size="37.00" font-weight="bold" fill="#2A661C" textLength="117.96" lengthAdjust="spacingAndGlyphs">32.40%</text>
<text x="594.27" y="1595.40" font-family="Liberation Sans, sans-serif" font-size="37.00" font-weight="bold" fill="#2A661C" textLength="98.62" lengthAdjust="spacingAndGlyphs">0.22%</text>
<text x="853.79" y="1595.40" font-family="Liberation Sans, sans-serif" font-size="37.00" font-weight="bold" fill="#8E1A16" textLength="110.20" lengthAdjust="spacingAndGlyphs">-2.73%</text>
<text x="1124.09" y="1595.40" font-family="Liberation Sans, sans-serif" font-size="37.00" font-weight="bold" fill="#8E1A16" textLength="110.20" lengthAdjust="spacingAndGlyphs">-5.53%</text>
<text x="1406.77" y="1595.40" font-family="Liberation Sans, sans-serif" font-size="37.00" font-weight="bold" fill="#2A661C" textLength="98.62" lengthAdjust="spacingAndGlyphs">0.26%</text>
<text x="1676.07" y="1595.40" font-family="Liberation Sans, sans-serif" font-size="37.00" font-weight="bold" fill="#2A661C" textLength="98.62" lengthAdjust="spacingAndGlyphs">1.20%</text>
<text x="1946.57" y="1595.40" font-family="Liberation Sans, sans-serif" font-size="37.00" font-weight="bold" fill="#2A661C" textLength="98.62" lengthAdjust="spacingAndGlyphs">9.37%</text>
<text x="2196.14" y="1595.40" font-family="Liberation Sans, sans-serif" font-size="37.00" font-weight="bold" fill="#2A661C" textLength="117.96" lengthAdjust="spacingAndGlyphs">23.04%</text>
<text x="124.97" y="1702.70" font-family="Liberation Sans, sans-serif" font-size="42.50" font-weight="bold">Average:</text>
<text x="101.51" y="1769.00" font-family="Liberation Sans, sans-serif" font-size="42.50" font-weight="bold">% Positive:</text>
<text x="573.63" y="1707.20" font-family="Liberation Sans, sans-serif" font-size="43.00" font-weight="bold" textLength="119.24" lengthAdjust="spacingAndGlyphs">1.42%</text>
<text x="585.40" y="1772.90" font-family="Liberation Sans, sans-serif" font-size="43.00" font-weight="bold" textLength="107.56" lengthAdjust="spacingAndGlyphs">100%</text>
<text x="844.63" y="1707.20" font-family="Liberation Sans, sans-serif" font-size="43.00" font-weight="bold" textLength="119.24" lengthAdjust="spacingAndGlyphs">1.17%</text>
<text x="879.95" y="1772.90" font-family="Liberation Sans, sans-serif" font-size="43.00" font-weight="bold" textLength="84.17" lengthAdjust="spacingAndGlyphs">67%</text>
<text x="1114.93" y="1707.20" font-family="Liberation Sans, sans-serif" font-size="43.00" font-weight="bold" textLength="119.24" lengthAdjust="spacingAndGlyphs">0.47%</text>
<text x="1150.25" y="1772.90" font-family="Liberation Sans, sans-serif" font-size="43.00" font-weight="bold" textLength="84.17" lengthAdjust="spacingAndGlyphs">67%</text>
<text x="1386.13" y="1707.20" font-family="Liberation Sans, sans-serif" font-size="43.00" font-weight="bold" textLength="119.24" lengthAdjust="spacingAndGlyphs">2.92%</text>
<text x="1397.90" y="1772.90" font-family="Liberation Sans, sans-serif" font-size="43.00" font-weight="bold" textLength="107.56" lengthAdjust="spacingAndGlyphs">100%</text>
<text x="1655.43" y="1707.20" font-family="Liberation Sans, sans-serif" font-size="43.00" font-weight="bold" textLength="119.24" lengthAdjust="spacingAndGlyphs">6.25%</text>
<text x="1667.20" y="1772.90" font-family="Liberation Sans, sans-serif" font-size="43.00" font-weight="bold" textLength="107.56" lengthAdjust="spacingAndGlyphs">100%</text>
<text x="1925.93" y="1707.20" font-family="Liberation Sans, sans-serif" font-size="43.00" font-weight="bold" textLength="119.24" lengthAdjust="spacingAndGlyphs">9.55%</text>
<text x="1937.70" y="1772.90" font-family="Liberation Sans, sans-serif" font-size="43.00" font-weight="bold" textLength="107.56" lengthAdjust="spacingAndGlyphs">100%</text>
<text x="2171.50" y="1707.20" font-family="Liberation Sans, sans-serif" font-size="43.00" font-weight="bold" textLength="142.64" lengthAdjust="spacingAndGlyphs">22.97%</text>
<text x="2206.40" y="1772.90" font-family="Liberation Sans, sans-serif" font-size="43.00" font-weight="bold" textLength="107.56" lengthAdjust="spacingAndGlyphs">100%</text>
<text x="69.63" y="1863.40" font-family="Liberation Sans, sans-serif" font-size="35.40">Average Max Loss</text>
<text x="70.16" y="1913.70" font-family="Liberation Sans, sans-serif" font-size="35.40">Average Max Gain</text>
<text x="595.16" y="1863.90" font-family="Liberation Sans, sans-serif" font-size="35.40" textLength="97.87" lengthAdjust="spacingAndGlyphs">0.00%</text>
<text x="595.16" y="1914.10" font-family="Liberation Sans, sans-serif" font-size="35.40" textLength="97.87" lengthAdjust="spacingAndGlyphs">2.31%</text>
<text x="854.77" y="1863.90" font-family="Liberation Sans, sans-serif" font-size="35.40" textLength="109.36" lengthAdjust="spacingAndGlyphs">-0.91%</text>
<text x="866.16" y="1914.10" font-family="Liberation Sans, sans-serif" font-size="35.40" textLength="97.87" lengthAdjust="spacingAndGlyphs">2.62%</text>
<text x="1125.07" y="1863.90" font-family="Liberation Sans, sans-serif" font-size="35.40" textLength="109.36" lengthAdjust="spacingAndGlyphs">-1.84%</text>
<text x="1136.46" y="1914.10" font-family="Liberation Sans, sans-serif" font-size="35.40" textLength="97.87" lengthAdjust="spacingAndGlyphs">3.74%</text>
<text x="1396.27" y="1863.90" font-family="Liberation Sans, sans-serif" font-size="35.40" textLength="109.36" lengthAdjust="spacingAndGlyphs">-3.04%</text>
<text x="1407.66" y="1914.10" font-family="Liberation Sans, sans-serif" font-size="35.40" textLength="97.87" lengthAdjust="spacingAndGlyphs">4.90%</text>
<text x="1665.57" y="1863.90" font-family="Liberation Sans, sans-serif" font-size="35.40" textLength="109.36" lengthAdjust="spacingAndGlyphs">-3.04%</text>
<text x="1676.96" y="1914.10" font-family="Liberation Sans, sans-serif" font-size="35.40" textLength="97.87" lengthAdjust="spacingAndGlyphs">6.60%</text>
<text x="1936.07" y="1863.90" font-family="Liberation Sans, sans-serif" font-size="35.40" textLength="109.36" lengthAdjust="spacingAndGlyphs">-3.23%</text>
<text x="1928.13" y="1914.10" font-family="Liberation Sans, sans-serif" font-size="35.40" textLength="117.07" lengthAdjust="spacingAndGlyphs">14.39%</text>
<text x="2204.77" y="1863.90" font-family="Liberation Sans, sans-serif" font-size="35.40" textLength="109.36" lengthAdjust="spacingAndGlyphs">-4.08%</text>
<text x="2196.83" y="1914.10" font-family="Liberation Sans, sans-serif" font-size="35.40" textLength="117.07" lengthAdjust="spacingAndGlyphs">23.19%</text>
</svg>
</body></html>
